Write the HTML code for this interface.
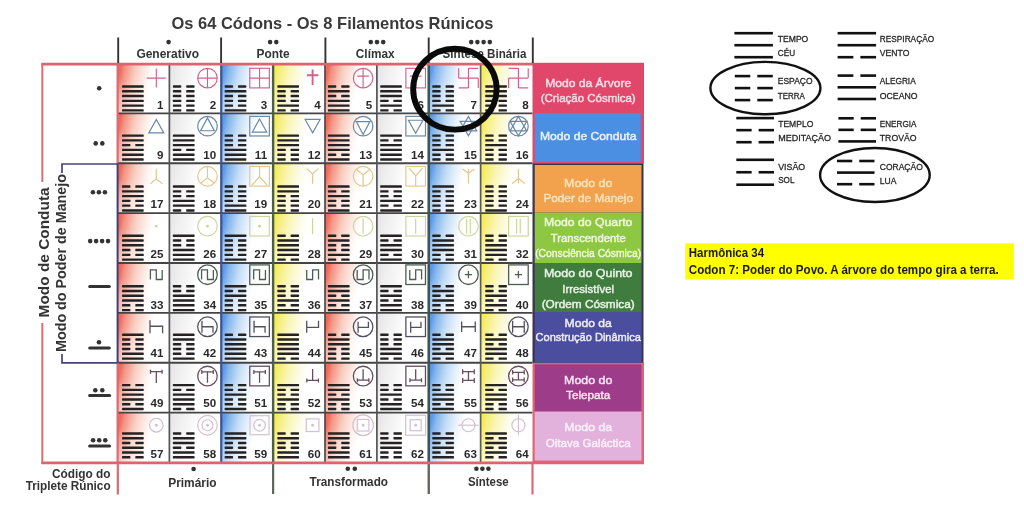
<!DOCTYPE html><html><head><meta charset="utf-8"><style>html,body{margin:0;padding:0;background:#fff;width:1024px;height:510px;overflow:hidden}svg{display:block;will-change:transform}text{font-family:"Liberation Sans",sans-serif}</style></head><body>
<svg width="1024" height="510" viewBox="0 0 1024 510">
<defs>
<linearGradient id="gR" x1="0" y1="0.4" x2="1" y2="0.6"><stop offset="0" stop-color="#ef6a5a"/><stop offset="0.08" stop-color="#f39282"/><stop offset="0.28" stop-color="#f9cdc0"/><stop offset="0.48" stop-color="#fdede7"/><stop offset="0.62" stop-color="#ffffff"/></linearGradient>
<linearGradient id="gG" x1="0" y1="0.4" x2="1" y2="0.6"><stop offset="0" stop-color="#e9e7e9"/><stop offset="0.12" stop-color="#efeeef"/><stop offset="0.35" stop-color="#f8f7f8"/><stop offset="0.5" stop-color="#ffffff"/></linearGradient>
<linearGradient id="gB" x1="0" y1="0.4" x2="1" y2="0.6"><stop offset="0" stop-color="#5e9ae4"/><stop offset="0.08" stop-color="#84b4ec"/><stop offset="0.28" stop-color="#c2dcf6"/><stop offset="0.48" stop-color="#ebf3fc"/><stop offset="0.62" stop-color="#ffffff"/></linearGradient>
<linearGradient id="gY" x1="0" y1="0.4" x2="1" y2="0.6"><stop offset="0" stop-color="#f4ec5c"/><stop offset="0.07" stop-color="#f6ee7c"/><stop offset="0.25" stop-color="#faf6b8"/><stop offset="0.45" stop-color="#fdfbe6"/><stop offset="0.6" stop-color="#ffffff"/></linearGradient>
<linearGradient id="fade" x1="0" y1="0" x2="0" y2="1"><stop offset="0" stop-color="#fff" stop-opacity="0"/><stop offset="0.3" stop-color="#fff" stop-opacity="0"/><stop offset="1" stop-color="#fff" stop-opacity="0.4"/></linearGradient>
</defs>
<rect width="1024" height="510" fill="#fff"/>
<rect x="117.50" y="63.50" width="51.88" height="49.88" fill="url(#gR)"/>
<rect x="117.50" y="63.50" width="51.88" height="49.88" fill="url(#fade)"/>
<rect x="169.38" y="63.50" width="51.88" height="49.88" fill="url(#gG)"/>
<rect x="169.38" y="63.50" width="51.88" height="49.88" fill="url(#fade)"/>
<rect x="221.25" y="63.50" width="51.88" height="49.88" fill="url(#gB)"/>
<rect x="221.25" y="63.50" width="51.88" height="49.88" fill="url(#fade)"/>
<rect x="273.12" y="63.50" width="51.88" height="49.88" fill="url(#gY)"/>
<rect x="273.12" y="63.50" width="51.88" height="49.88" fill="url(#fade)"/>
<rect x="325.00" y="63.50" width="51.88" height="49.88" fill="url(#gR)"/>
<rect x="325.00" y="63.50" width="51.88" height="49.88" fill="url(#fade)"/>
<rect x="376.88" y="63.50" width="51.88" height="49.88" fill="url(#gG)"/>
<rect x="376.88" y="63.50" width="51.88" height="49.88" fill="url(#fade)"/>
<rect x="428.75" y="63.50" width="51.88" height="49.88" fill="url(#gB)"/>
<rect x="428.75" y="63.50" width="51.88" height="49.88" fill="url(#fade)"/>
<rect x="480.62" y="63.50" width="51.88" height="49.88" fill="url(#gY)"/>
<rect x="480.62" y="63.50" width="51.88" height="49.88" fill="url(#fade)"/>
<rect x="117.50" y="113.38" width="51.88" height="49.88" fill="url(#gR)"/>
<rect x="117.50" y="113.38" width="51.88" height="49.88" fill="url(#fade)"/>
<rect x="169.38" y="113.38" width="51.88" height="49.88" fill="url(#gG)"/>
<rect x="169.38" y="113.38" width="51.88" height="49.88" fill="url(#fade)"/>
<rect x="221.25" y="113.38" width="51.88" height="49.88" fill="url(#gB)"/>
<rect x="221.25" y="113.38" width="51.88" height="49.88" fill="url(#fade)"/>
<rect x="273.12" y="113.38" width="51.88" height="49.88" fill="url(#gY)"/>
<rect x="273.12" y="113.38" width="51.88" height="49.88" fill="url(#fade)"/>
<rect x="325.00" y="113.38" width="51.88" height="49.88" fill="url(#gR)"/>
<rect x="325.00" y="113.38" width="51.88" height="49.88" fill="url(#fade)"/>
<rect x="376.88" y="113.38" width="51.88" height="49.88" fill="url(#gG)"/>
<rect x="376.88" y="113.38" width="51.88" height="49.88" fill="url(#fade)"/>
<rect x="428.75" y="113.38" width="51.88" height="49.88" fill="url(#gB)"/>
<rect x="428.75" y="113.38" width="51.88" height="49.88" fill="url(#fade)"/>
<rect x="480.62" y="113.38" width="51.88" height="49.88" fill="url(#gY)"/>
<rect x="480.62" y="113.38" width="51.88" height="49.88" fill="url(#fade)"/>
<rect x="117.50" y="163.25" width="51.88" height="49.88" fill="url(#gR)"/>
<rect x="117.50" y="163.25" width="51.88" height="49.88" fill="url(#fade)"/>
<rect x="169.38" y="163.25" width="51.88" height="49.88" fill="url(#gG)"/>
<rect x="169.38" y="163.25" width="51.88" height="49.88" fill="url(#fade)"/>
<rect x="221.25" y="163.25" width="51.88" height="49.88" fill="url(#gB)"/>
<rect x="221.25" y="163.25" width="51.88" height="49.88" fill="url(#fade)"/>
<rect x="273.12" y="163.25" width="51.88" height="49.88" fill="url(#gY)"/>
<rect x="273.12" y="163.25" width="51.88" height="49.88" fill="url(#fade)"/>
<rect x="325.00" y="163.25" width="51.88" height="49.88" fill="url(#gR)"/>
<rect x="325.00" y="163.25" width="51.88" height="49.88" fill="url(#fade)"/>
<rect x="376.88" y="163.25" width="51.88" height="49.88" fill="url(#gG)"/>
<rect x="376.88" y="163.25" width="51.88" height="49.88" fill="url(#fade)"/>
<rect x="428.75" y="163.25" width="51.88" height="49.88" fill="url(#gB)"/>
<rect x="428.75" y="163.25" width="51.88" height="49.88" fill="url(#fade)"/>
<rect x="480.62" y="163.25" width="51.88" height="49.88" fill="url(#gY)"/>
<rect x="480.62" y="163.25" width="51.88" height="49.88" fill="url(#fade)"/>
<rect x="117.50" y="213.12" width="51.88" height="49.88" fill="url(#gR)"/>
<rect x="117.50" y="213.12" width="51.88" height="49.88" fill="url(#fade)"/>
<rect x="169.38" y="213.12" width="51.88" height="49.88" fill="url(#gG)"/>
<rect x="169.38" y="213.12" width="51.88" height="49.88" fill="url(#fade)"/>
<rect x="221.25" y="213.12" width="51.88" height="49.88" fill="url(#gB)"/>
<rect x="221.25" y="213.12" width="51.88" height="49.88" fill="url(#fade)"/>
<rect x="273.12" y="213.12" width="51.88" height="49.88" fill="url(#gY)"/>
<rect x="273.12" y="213.12" width="51.88" height="49.88" fill="url(#fade)"/>
<rect x="325.00" y="213.12" width="51.88" height="49.88" fill="url(#gR)"/>
<rect x="325.00" y="213.12" width="51.88" height="49.88" fill="url(#fade)"/>
<rect x="376.88" y="213.12" width="51.88" height="49.88" fill="url(#gG)"/>
<rect x="376.88" y="213.12" width="51.88" height="49.88" fill="url(#fade)"/>
<rect x="428.75" y="213.12" width="51.88" height="49.88" fill="url(#gB)"/>
<rect x="428.75" y="213.12" width="51.88" height="49.88" fill="url(#fade)"/>
<rect x="480.62" y="213.12" width="51.88" height="49.88" fill="url(#gY)"/>
<rect x="480.62" y="213.12" width="51.88" height="49.88" fill="url(#fade)"/>
<rect x="117.50" y="263.00" width="51.88" height="49.88" fill="url(#gR)"/>
<rect x="117.50" y="263.00" width="51.88" height="49.88" fill="url(#fade)"/>
<rect x="169.38" y="263.00" width="51.88" height="49.88" fill="url(#gG)"/>
<rect x="169.38" y="263.00" width="51.88" height="49.88" fill="url(#fade)"/>
<rect x="221.25" y="263.00" width="51.88" height="49.88" fill="url(#gB)"/>
<rect x="221.25" y="263.00" width="51.88" height="49.88" fill="url(#fade)"/>
<rect x="273.12" y="263.00" width="51.88" height="49.88" fill="url(#gY)"/>
<rect x="273.12" y="263.00" width="51.88" height="49.88" fill="url(#fade)"/>
<rect x="325.00" y="263.00" width="51.88" height="49.88" fill="url(#gR)"/>
<rect x="325.00" y="263.00" width="51.88" height="49.88" fill="url(#fade)"/>
<rect x="376.88" y="263.00" width="51.88" height="49.88" fill="url(#gG)"/>
<rect x="376.88" y="263.00" width="51.88" height="49.88" fill="url(#fade)"/>
<rect x="428.75" y="263.00" width="51.88" height="49.88" fill="url(#gB)"/>
<rect x="428.75" y="263.00" width="51.88" height="49.88" fill="url(#fade)"/>
<rect x="480.62" y="263.00" width="51.88" height="49.88" fill="url(#gY)"/>
<rect x="480.62" y="263.00" width="51.88" height="49.88" fill="url(#fade)"/>
<rect x="117.50" y="312.88" width="51.88" height="49.88" fill="url(#gR)"/>
<rect x="117.50" y="312.88" width="51.88" height="49.88" fill="url(#fade)"/>
<rect x="169.38" y="312.88" width="51.88" height="49.88" fill="url(#gG)"/>
<rect x="169.38" y="312.88" width="51.88" height="49.88" fill="url(#fade)"/>
<rect x="221.25" y="312.88" width="51.88" height="49.88" fill="url(#gB)"/>
<rect x="221.25" y="312.88" width="51.88" height="49.88" fill="url(#fade)"/>
<rect x="273.12" y="312.88" width="51.88" height="49.88" fill="url(#gY)"/>
<rect x="273.12" y="312.88" width="51.88" height="49.88" fill="url(#fade)"/>
<rect x="325.00" y="312.88" width="51.88" height="49.88" fill="url(#gR)"/>
<rect x="325.00" y="312.88" width="51.88" height="49.88" fill="url(#fade)"/>
<rect x="376.88" y="312.88" width="51.88" height="49.88" fill="url(#gG)"/>
<rect x="376.88" y="312.88" width="51.88" height="49.88" fill="url(#fade)"/>
<rect x="428.75" y="312.88" width="51.88" height="49.88" fill="url(#gB)"/>
<rect x="428.75" y="312.88" width="51.88" height="49.88" fill="url(#fade)"/>
<rect x="480.62" y="312.88" width="51.88" height="49.88" fill="url(#gY)"/>
<rect x="480.62" y="312.88" width="51.88" height="49.88" fill="url(#fade)"/>
<rect x="117.50" y="362.75" width="51.88" height="49.88" fill="url(#gR)"/>
<rect x="117.50" y="362.75" width="51.88" height="49.88" fill="url(#fade)"/>
<rect x="169.38" y="362.75" width="51.88" height="49.88" fill="url(#gG)"/>
<rect x="169.38" y="362.75" width="51.88" height="49.88" fill="url(#fade)"/>
<rect x="221.25" y="362.75" width="51.88" height="49.88" fill="url(#gB)"/>
<rect x="221.25" y="362.75" width="51.88" height="49.88" fill="url(#fade)"/>
<rect x="273.12" y="362.75" width="51.88" height="49.88" fill="url(#gY)"/>
<rect x="273.12" y="362.75" width="51.88" height="49.88" fill="url(#fade)"/>
<rect x="325.00" y="362.75" width="51.88" height="49.88" fill="url(#gR)"/>
<rect x="325.00" y="362.75" width="51.88" height="49.88" fill="url(#fade)"/>
<rect x="376.88" y="362.75" width="51.88" height="49.88" fill="url(#gG)"/>
<rect x="376.88" y="362.75" width="51.88" height="49.88" fill="url(#fade)"/>
<rect x="428.75" y="362.75" width="51.88" height="49.88" fill="url(#gB)"/>
<rect x="428.75" y="362.75" width="51.88" height="49.88" fill="url(#fade)"/>
<rect x="480.62" y="362.75" width="51.88" height="49.88" fill="url(#gY)"/>
<rect x="480.62" y="362.75" width="51.88" height="49.88" fill="url(#fade)"/>
<rect x="117.50" y="412.62" width="51.88" height="49.88" fill="url(#gR)"/>
<rect x="117.50" y="412.62" width="51.88" height="49.88" fill="url(#fade)"/>
<rect x="169.38" y="412.62" width="51.88" height="49.88" fill="url(#gG)"/>
<rect x="169.38" y="412.62" width="51.88" height="49.88" fill="url(#fade)"/>
<rect x="221.25" y="412.62" width="51.88" height="49.88" fill="url(#gB)"/>
<rect x="221.25" y="412.62" width="51.88" height="49.88" fill="url(#fade)"/>
<rect x="273.12" y="412.62" width="51.88" height="49.88" fill="url(#gY)"/>
<rect x="273.12" y="412.62" width="51.88" height="49.88" fill="url(#fade)"/>
<rect x="325.00" y="412.62" width="51.88" height="49.88" fill="url(#gR)"/>
<rect x="325.00" y="412.62" width="51.88" height="49.88" fill="url(#fade)"/>
<rect x="376.88" y="412.62" width="51.88" height="49.88" fill="url(#gG)"/>
<rect x="376.88" y="412.62" width="51.88" height="49.88" fill="url(#fade)"/>
<rect x="428.75" y="412.62" width="51.88" height="49.88" fill="url(#gB)"/>
<rect x="428.75" y="412.62" width="51.88" height="49.88" fill="url(#fade)"/>
<rect x="480.62" y="412.62" width="51.88" height="49.88" fill="url(#gY)"/>
<rect x="480.62" y="412.62" width="51.88" height="49.88" fill="url(#fade)"/>
<rect x="122.00" y="85.30" width="21.7" height="2.4" rx="0.6" fill="#242222"/>
<rect x="122.00" y="90.08" width="21.7" height="2.4" rx="0.6" fill="#242222"/>
<rect x="122.00" y="94.86" width="21.7" height="2.4" rx="0.6" fill="#242222"/>
<rect x="122.00" y="99.64" width="21.7" height="2.4" rx="0.6" fill="#242222"/>
<rect x="122.00" y="104.42" width="21.7" height="2.4" rx="0.6" fill="#242222"/>
<rect x="122.00" y="109.20" width="21.7" height="2.4" rx="0.6" fill="#242222"/>
<text x="163.38" y="109.40" font-size="11.6" font-weight="bold" fill="#2a2a2a" text-anchor="end">1</text>
<g transform="translate(156.30,78.10)" fill="none" stroke="#d2628a" stroke-width="1.15" color="#d2628a"><path d="M-9.5,0H9.5M0,-9.5V9.5"/></g>
<rect x="172.88" y="85.30" width="8.4" height="2.4" rx="0.6" fill="#242222"/>
<rect x="186.18" y="85.30" width="8.4" height="2.4" rx="0.6" fill="#242222"/>
<rect x="172.88" y="90.08" width="8.4" height="2.4" rx="0.6" fill="#242222"/>
<rect x="186.18" y="90.08" width="8.4" height="2.4" rx="0.6" fill="#242222"/>
<rect x="172.88" y="94.86" width="8.4" height="2.4" rx="0.6" fill="#242222"/>
<rect x="186.18" y="94.86" width="8.4" height="2.4" rx="0.6" fill="#242222"/>
<rect x="172.88" y="99.64" width="8.4" height="2.4" rx="0.6" fill="#242222"/>
<rect x="186.18" y="99.64" width="8.4" height="2.4" rx="0.6" fill="#242222"/>
<rect x="172.88" y="104.42" width="8.4" height="2.4" rx="0.6" fill="#242222"/>
<rect x="186.18" y="104.42" width="8.4" height="2.4" rx="0.6" fill="#242222"/>
<rect x="172.88" y="109.20" width="8.4" height="2.4" rx="0.6" fill="#242222"/>
<rect x="186.18" y="109.20" width="8.4" height="2.4" rx="0.6" fill="#242222"/>
<text x="216.15" y="109.40" font-size="11.6" font-weight="bold" fill="#2a2a2a" text-anchor="end">2</text>
<g transform="translate(207.47,78.10)" fill="none" stroke="#d2628a" stroke-width="1.15" color="#d2628a"><circle cx="0" cy="0" r="9.8"/><path d="M-9.8,0H9.8M0,-9.8V9.8"/></g>
<rect x="224.65" y="85.30" width="8.4" height="2.4" rx="0.6" fill="#242222"/>
<rect x="237.95" y="85.30" width="8.4" height="2.4" rx="0.6" fill="#242222"/>
<rect x="224.65" y="90.08" width="21.7" height="2.4" rx="0.6" fill="#242222"/>
<rect x="224.65" y="94.86" width="8.4" height="2.4" rx="0.6" fill="#242222"/>
<rect x="237.95" y="94.86" width="8.4" height="2.4" rx="0.6" fill="#242222"/>
<rect x="224.65" y="99.64" width="8.4" height="2.4" rx="0.6" fill="#242222"/>
<rect x="237.95" y="99.64" width="8.4" height="2.4" rx="0.6" fill="#242222"/>
<rect x="224.65" y="104.42" width="8.4" height="2.4" rx="0.6" fill="#242222"/>
<rect x="237.95" y="104.42" width="8.4" height="2.4" rx="0.6" fill="#242222"/>
<rect x="224.65" y="109.20" width="21.7" height="2.4" rx="0.6" fill="#242222"/>
<text x="267.12" y="109.40" font-size="11.6" font-weight="bold" fill="#2a2a2a" text-anchor="end">3</text>
<g transform="translate(259.55,78.10)" fill="none" stroke="#d2628a" stroke-width="1.15" color="#d2628a"><rect x="-9.8" y="-9.8" width="19.6" height="19.6"/><path d="M-9.8,0H9.8M0,-9.8V9.8"/></g>
<rect x="277.32" y="85.30" width="21.7" height="2.4" rx="0.6" fill="#242222"/>
<rect x="277.32" y="90.08" width="8.4" height="2.4" rx="0.6" fill="#242222"/>
<rect x="290.62" y="90.08" width="8.4" height="2.4" rx="0.6" fill="#242222"/>
<rect x="277.32" y="94.86" width="8.4" height="2.4" rx="0.6" fill="#242222"/>
<rect x="290.62" y="94.86" width="8.4" height="2.4" rx="0.6" fill="#242222"/>
<rect x="277.32" y="99.64" width="8.4" height="2.4" rx="0.6" fill="#242222"/>
<rect x="290.62" y="99.64" width="8.4" height="2.4" rx="0.6" fill="#242222"/>
<rect x="277.32" y="104.42" width="21.7" height="2.4" rx="0.6" fill="#242222"/>
<rect x="277.32" y="109.20" width="8.4" height="2.4" rx="0.6" fill="#242222"/>
<rect x="290.62" y="109.20" width="8.4" height="2.4" rx="0.6" fill="#242222"/>
<text x="320.60" y="109.40" font-size="11.6" font-weight="bold" fill="#2a2a2a" text-anchor="end">4</text>
<g transform="translate(312.62,78.10)" fill="none" stroke="#d2628a" stroke-width="1.15" color="#d2628a"><g stroke-width="1.9"><path d="M0,-8.6V6.8M-5.8,-2.8H5.8"/></g></g>
<rect x="327.90" y="85.30" width="8.4" height="2.4" rx="0.6" fill="#242222"/>
<rect x="341.20" y="85.30" width="8.4" height="2.4" rx="0.6" fill="#242222"/>
<rect x="327.90" y="90.08" width="21.7" height="2.4" rx="0.6" fill="#242222"/>
<rect x="327.90" y="94.86" width="8.4" height="2.4" rx="0.6" fill="#242222"/>
<rect x="341.20" y="94.86" width="8.4" height="2.4" rx="0.6" fill="#242222"/>
<rect x="327.90" y="99.64" width="21.7" height="2.4" rx="0.6" fill="#242222"/>
<rect x="327.90" y="104.42" width="21.7" height="2.4" rx="0.6" fill="#242222"/>
<rect x="327.90" y="109.20" width="21.7" height="2.4" rx="0.6" fill="#242222"/>
<text x="372.18" y="109.40" font-size="11.6" font-weight="bold" fill="#2a2a2a" text-anchor="end">5</text>
<g transform="translate(363.10,78.10)" fill="none" stroke="#d2628a" stroke-width="1.15" color="#d2628a"><circle cx="0" cy="0" r="9.8"/><path d="M0,-9.8V9.8M-5.8,-2H5.8"/></g>
<rect x="380.18" y="85.30" width="21.7" height="2.4" rx="0.6" fill="#242222"/>
<rect x="380.18" y="90.08" width="21.7" height="2.4" rx="0.6" fill="#242222"/>
<rect x="380.18" y="94.86" width="21.7" height="2.4" rx="0.6" fill="#242222"/>
<rect x="380.18" y="99.64" width="8.4" height="2.4" rx="0.6" fill="#242222"/>
<rect x="393.48" y="99.64" width="8.4" height="2.4" rx="0.6" fill="#242222"/>
<rect x="380.18" y="104.42" width="21.7" height="2.4" rx="0.6" fill="#242222"/>
<rect x="380.18" y="109.20" width="8.4" height="2.4" rx="0.6" fill="#242222"/>
<rect x="393.48" y="109.20" width="8.4" height="2.4" rx="0.6" fill="#242222"/>
<text x="423.85" y="109.40" font-size="11.6" font-weight="bold" fill="#2a2a2a" text-anchor="end">6</text>
<g transform="translate(415.68,78.10)" fill="none" stroke="#d2628a" stroke-width="1.15" color="#d2628a"><rect x="-9.8" y="-9.8" width="19.6" height="19.6"/><path d="M0,-9.8V9.8M-5.8,-2H5.8"/></g>
<rect x="432.25" y="85.30" width="8.4" height="2.4" rx="0.6" fill="#242222"/>
<rect x="445.55" y="85.30" width="8.4" height="2.4" rx="0.6" fill="#242222"/>
<rect x="432.25" y="90.08" width="8.4" height="2.4" rx="0.6" fill="#242222"/>
<rect x="445.55" y="90.08" width="8.4" height="2.4" rx="0.6" fill="#242222"/>
<rect x="432.25" y="94.86" width="8.4" height="2.4" rx="0.6" fill="#242222"/>
<rect x="445.55" y="94.86" width="8.4" height="2.4" rx="0.6" fill="#242222"/>
<rect x="432.25" y="99.64" width="8.4" height="2.4" rx="0.6" fill="#242222"/>
<rect x="445.55" y="99.64" width="8.4" height="2.4" rx="0.6" fill="#242222"/>
<rect x="432.25" y="104.42" width="21.7" height="2.4" rx="0.6" fill="#242222"/>
<rect x="432.25" y="109.20" width="8.4" height="2.4" rx="0.6" fill="#242222"/>
<rect x="445.55" y="109.20" width="8.4" height="2.4" rx="0.6" fill="#242222"/>
<text x="476.93" y="109.40" font-size="11.6" font-weight="bold" fill="#2a2a2a" text-anchor="end">7</text>
<g transform="translate(468.45,78.10)" fill="none" stroke="#d2628a" stroke-width="1.15" color="#d2628a"><path d="M0,-9.8V9.8M-9.8,0H9.8M0,-9.8H9.8M9.8,0V9.8M0,9.8H-9.8M-9.8,0V-9.8"/></g>
<rect x="485.23" y="85.30" width="8.4" height="2.4" rx="0.6" fill="#242222"/>
<rect x="498.53" y="85.30" width="8.4" height="2.4" rx="0.6" fill="#242222"/>
<rect x="485.23" y="90.08" width="21.7" height="2.4" rx="0.6" fill="#242222"/>
<rect x="485.23" y="94.86" width="8.4" height="2.4" rx="0.6" fill="#242222"/>
<rect x="498.53" y="94.86" width="8.4" height="2.4" rx="0.6" fill="#242222"/>
<rect x="485.23" y="99.64" width="8.4" height="2.4" rx="0.6" fill="#242222"/>
<rect x="498.53" y="99.64" width="8.4" height="2.4" rx="0.6" fill="#242222"/>
<rect x="485.23" y="104.42" width="8.4" height="2.4" rx="0.6" fill="#242222"/>
<rect x="498.53" y="104.42" width="8.4" height="2.4" rx="0.6" fill="#242222"/>
<rect x="485.23" y="109.20" width="8.4" height="2.4" rx="0.6" fill="#242222"/>
<rect x="498.53" y="109.20" width="8.4" height="2.4" rx="0.6" fill="#242222"/>
<text x="528.60" y="109.40" font-size="11.6" font-weight="bold" fill="#2a2a2a" text-anchor="end">8</text>
<g transform="translate(518.42,78.10)" fill="none" stroke="#d2628a" stroke-width="1.15" color="#d2628a"><path d="M0,-9.8V9.8M-9.8,0H9.8M0,-9.8H-9.8M-9.8,0V9.8M0,9.8H9.8M9.8,0V-9.8"/></g>
<rect x="122.00" y="134.38" width="21.7" height="2.4" rx="0.6" fill="#242222"/>
<rect x="122.00" y="139.16" width="21.7" height="2.4" rx="0.6" fill="#242222"/>
<rect x="122.00" y="143.94" width="8.4" height="2.4" rx="0.6" fill="#242222"/>
<rect x="135.30" y="143.94" width="8.4" height="2.4" rx="0.6" fill="#242222"/>
<rect x="122.00" y="148.72" width="21.7" height="2.4" rx="0.6" fill="#242222"/>
<rect x="122.00" y="153.50" width="21.7" height="2.4" rx="0.6" fill="#242222"/>
<rect x="122.00" y="158.28" width="21.7" height="2.4" rx="0.6" fill="#242222"/>
<text x="163.38" y="159.38" font-size="11.6" font-weight="bold" fill="#2a2a2a" text-anchor="end">9</text>
<g transform="translate(156.30,126.17)" fill="none" stroke="#6888a8" stroke-width="1.2" color="#6888a8"><path d="M0,-6.7L7.5,6.7H-7.5Z"/></g>
<rect x="172.88" y="134.38" width="21.7" height="2.4" rx="0.6" fill="#242222"/>
<rect x="172.88" y="139.16" width="21.7" height="2.4" rx="0.6" fill="#242222"/>
<rect x="172.88" y="143.94" width="21.7" height="2.4" rx="0.6" fill="#242222"/>
<rect x="172.88" y="148.72" width="8.4" height="2.4" rx="0.6" fill="#242222"/>
<rect x="186.18" y="148.72" width="8.4" height="2.4" rx="0.6" fill="#242222"/>
<rect x="172.88" y="153.50" width="21.7" height="2.4" rx="0.6" fill="#242222"/>
<rect x="172.88" y="158.28" width="21.7" height="2.4" rx="0.6" fill="#242222"/>
<text x="216.15" y="159.38" font-size="11.6" font-weight="bold" fill="#2a2a2a" text-anchor="end">10</text>
<g transform="translate(207.47,126.17)" fill="none" stroke="#6888a8" stroke-width="1.2" color="#6888a8"><circle cx="0" cy="0" r="9.8"/><path d="M0,-8.3L6.8,4.6H-6.8Z"/></g>
<rect x="224.65" y="134.38" width="8.4" height="2.4" rx="0.6" fill="#242222"/>
<rect x="237.95" y="134.38" width="8.4" height="2.4" rx="0.6" fill="#242222"/>
<rect x="224.65" y="139.16" width="8.4" height="2.4" rx="0.6" fill="#242222"/>
<rect x="237.95" y="139.16" width="8.4" height="2.4" rx="0.6" fill="#242222"/>
<rect x="224.65" y="143.94" width="8.4" height="2.4" rx="0.6" fill="#242222"/>
<rect x="237.95" y="143.94" width="8.4" height="2.4" rx="0.6" fill="#242222"/>
<rect x="224.65" y="148.72" width="21.7" height="2.4" rx="0.6" fill="#242222"/>
<rect x="224.65" y="153.50" width="21.7" height="2.4" rx="0.6" fill="#242222"/>
<rect x="224.65" y="158.28" width="21.7" height="2.4" rx="0.6" fill="#242222"/>
<text x="267.12" y="159.38" font-size="11.6" font-weight="bold" fill="#2a2a2a" text-anchor="end">11</text>
<g transform="translate(259.55,126.17)" fill="none" stroke="#6888a8" stroke-width="1.2" color="#6888a8"><rect x="-9.8" y="-9.8" width="19.6" height="19.6"/><path d="M0,-7.1L7.2,5.9H-7.2Z"/></g>
<rect x="277.32" y="134.38" width="21.7" height="2.4" rx="0.6" fill="#242222"/>
<rect x="277.32" y="139.16" width="21.7" height="2.4" rx="0.6" fill="#242222"/>
<rect x="277.32" y="143.94" width="21.7" height="2.4" rx="0.6" fill="#242222"/>
<rect x="277.32" y="148.72" width="8.4" height="2.4" rx="0.6" fill="#242222"/>
<rect x="290.62" y="148.72" width="8.4" height="2.4" rx="0.6" fill="#242222"/>
<rect x="277.32" y="153.50" width="8.4" height="2.4" rx="0.6" fill="#242222"/>
<rect x="290.62" y="153.50" width="8.4" height="2.4" rx="0.6" fill="#242222"/>
<rect x="277.32" y="158.28" width="8.4" height="2.4" rx="0.6" fill="#242222"/>
<rect x="290.62" y="158.28" width="8.4" height="2.4" rx="0.6" fill="#242222"/>
<text x="320.60" y="159.38" font-size="11.6" font-weight="bold" fill="#2a2a2a" text-anchor="end">12</text>
<g transform="translate(312.62,126.17)" fill="none" stroke="#6888a8" stroke-width="1.2" color="#6888a8"><path d="M0,6.7L7.5,-6.7H-7.5Z"/></g>
<rect x="327.90" y="134.38" width="21.7" height="2.4" rx="0.6" fill="#242222"/>
<rect x="327.90" y="139.16" width="21.7" height="2.4" rx="0.6" fill="#242222"/>
<rect x="327.90" y="143.94" width="21.7" height="2.4" rx="0.6" fill="#242222"/>
<rect x="327.90" y="148.72" width="21.7" height="2.4" rx="0.6" fill="#242222"/>
<rect x="327.90" y="153.50" width="8.4" height="2.4" rx="0.6" fill="#242222"/>
<rect x="341.20" y="153.50" width="8.4" height="2.4" rx="0.6" fill="#242222"/>
<rect x="327.90" y="158.28" width="21.7" height="2.4" rx="0.6" fill="#242222"/>
<text x="372.18" y="159.38" font-size="11.6" font-weight="bold" fill="#2a2a2a" text-anchor="end">13</text>
<g transform="translate(363.10,126.17)" fill="none" stroke="#6888a8" stroke-width="1.2" color="#6888a8"><circle cx="0" cy="0" r="9.8"/><path d="M0,8.3L6.8,-4.6H-6.8Z"/></g>
<rect x="380.18" y="134.38" width="21.7" height="2.4" rx="0.6" fill="#242222"/>
<rect x="380.18" y="139.16" width="8.4" height="2.4" rx="0.6" fill="#242222"/>
<rect x="393.48" y="139.16" width="8.4" height="2.4" rx="0.6" fill="#242222"/>
<rect x="380.18" y="143.94" width="21.7" height="2.4" rx="0.6" fill="#242222"/>
<rect x="380.18" y="148.72" width="21.7" height="2.4" rx="0.6" fill="#242222"/>
<rect x="380.18" y="153.50" width="21.7" height="2.4" rx="0.6" fill="#242222"/>
<rect x="380.18" y="158.28" width="21.7" height="2.4" rx="0.6" fill="#242222"/>
<text x="423.85" y="159.38" font-size="11.6" font-weight="bold" fill="#2a2a2a" text-anchor="end">14</text>
<g transform="translate(415.68,126.17)" fill="none" stroke="#6888a8" stroke-width="1.2" color="#6888a8"><rect x="-9.8" y="-9.8" width="19.6" height="19.6"/><path d="M0,7.1L7.2,-5.9H-7.2Z"/></g>
<rect x="432.25" y="134.38" width="8.4" height="2.4" rx="0.6" fill="#242222"/>
<rect x="445.55" y="134.38" width="8.4" height="2.4" rx="0.6" fill="#242222"/>
<rect x="432.25" y="139.16" width="8.4" height="2.4" rx="0.6" fill="#242222"/>
<rect x="445.55" y="139.16" width="8.4" height="2.4" rx="0.6" fill="#242222"/>
<rect x="432.25" y="143.94" width="8.4" height="2.4" rx="0.6" fill="#242222"/>
<rect x="445.55" y="143.94" width="8.4" height="2.4" rx="0.6" fill="#242222"/>
<rect x="432.25" y="148.72" width="21.7" height="2.4" rx="0.6" fill="#242222"/>
<rect x="432.25" y="153.50" width="8.4" height="2.4" rx="0.6" fill="#242222"/>
<rect x="445.55" y="153.50" width="8.4" height="2.4" rx="0.6" fill="#242222"/>
<rect x="432.25" y="158.28" width="8.4" height="2.4" rx="0.6" fill="#242222"/>
<rect x="445.55" y="158.28" width="8.4" height="2.4" rx="0.6" fill="#242222"/>
<text x="476.93" y="159.38" font-size="11.6" font-weight="bold" fill="#2a2a2a" text-anchor="end">15</text>
<g transform="translate(468.45,126.17)" fill="none" stroke="#6888a8" stroke-width="1.2" color="#6888a8"><path d="M0,-9.6L8.3,4.8H-8.3Z"/><path d="M0,9.6L8.3,-4.8H-8.3Z"/></g>
<rect x="485.23" y="134.38" width="8.4" height="2.4" rx="0.6" fill="#242222"/>
<rect x="498.53" y="134.38" width="8.4" height="2.4" rx="0.6" fill="#242222"/>
<rect x="485.23" y="139.16" width="8.4" height="2.4" rx="0.6" fill="#242222"/>
<rect x="498.53" y="139.16" width="8.4" height="2.4" rx="0.6" fill="#242222"/>
<rect x="485.23" y="143.94" width="21.7" height="2.4" rx="0.6" fill="#242222"/>
<rect x="485.23" y="148.72" width="8.4" height="2.4" rx="0.6" fill="#242222"/>
<rect x="498.53" y="148.72" width="8.4" height="2.4" rx="0.6" fill="#242222"/>
<rect x="485.23" y="153.50" width="8.4" height="2.4" rx="0.6" fill="#242222"/>
<rect x="498.53" y="153.50" width="8.4" height="2.4" rx="0.6" fill="#242222"/>
<rect x="485.23" y="158.28" width="8.4" height="2.4" rx="0.6" fill="#242222"/>
<rect x="498.53" y="158.28" width="8.4" height="2.4" rx="0.6" fill="#242222"/>
<text x="528.60" y="159.38" font-size="11.6" font-weight="bold" fill="#2a2a2a" text-anchor="end">16</text>
<g transform="translate(518.42,126.17)" fill="none" stroke="#6888a8" stroke-width="1.2" color="#6888a8"><circle cx="0" cy="0" r="9.8"/><path d="M0,-9.6L8.3,4.8H-8.3Z"/><path d="M0,9.6L8.3,-4.8H-8.3Z"/></g>
<rect x="122.00" y="185.35" width="8.4" height="2.4" rx="0.6" fill="#242222"/>
<rect x="135.30" y="185.35" width="8.4" height="2.4" rx="0.6" fill="#242222"/>
<rect x="122.00" y="190.13" width="21.7" height="2.4" rx="0.6" fill="#242222"/>
<rect x="122.00" y="194.91" width="21.7" height="2.4" rx="0.6" fill="#242222"/>
<rect x="122.00" y="199.69" width="8.4" height="2.4" rx="0.6" fill="#242222"/>
<rect x="135.30" y="199.69" width="8.4" height="2.4" rx="0.6" fill="#242222"/>
<rect x="122.00" y="204.47" width="8.4" height="2.4" rx="0.6" fill="#242222"/>
<rect x="135.30" y="204.47" width="8.4" height="2.4" rx="0.6" fill="#242222"/>
<rect x="122.00" y="209.25" width="21.7" height="2.4" rx="0.6" fill="#242222"/>
<text x="163.38" y="208.15" font-size="11.6" font-weight="bold" fill="#2a2a2a" text-anchor="end">17</text>
<g transform="translate(156.30,176.25)" fill="none" stroke="#e2c88e" stroke-width="1.2" color="#e2c88e"><path d="M0,-7.5V2.5L-6,7.6M0,2.5L6,7.6"/></g>
<rect x="172.88" y="185.35" width="21.7" height="2.4" rx="0.6" fill="#242222"/>
<rect x="172.88" y="190.13" width="8.4" height="2.4" rx="0.6" fill="#242222"/>
<rect x="186.18" y="190.13" width="8.4" height="2.4" rx="0.6" fill="#242222"/>
<rect x="172.88" y="194.91" width="8.4" height="2.4" rx="0.6" fill="#242222"/>
<rect x="186.18" y="194.91" width="8.4" height="2.4" rx="0.6" fill="#242222"/>
<rect x="172.88" y="199.69" width="21.7" height="2.4" rx="0.6" fill="#242222"/>
<rect x="172.88" y="204.47" width="21.7" height="2.4" rx="0.6" fill="#242222"/>
<rect x="172.88" y="209.25" width="8.4" height="2.4" rx="0.6" fill="#242222"/>
<rect x="186.18" y="209.25" width="8.4" height="2.4" rx="0.6" fill="#242222"/>
<text x="216.15" y="208.15" font-size="11.6" font-weight="bold" fill="#2a2a2a" text-anchor="end">18</text>
<g transform="translate(207.47,176.25)" fill="none" stroke="#e2c88e" stroke-width="1.2" color="#e2c88e"><circle cx="0" cy="0" r="9.8"/><path d="M0,-9.8V1.5L-7,7M0,1.5L7,7"/></g>
<rect x="224.65" y="185.35" width="8.4" height="2.4" rx="0.6" fill="#242222"/>
<rect x="237.95" y="185.35" width="8.4" height="2.4" rx="0.6" fill="#242222"/>
<rect x="224.65" y="190.13" width="8.4" height="2.4" rx="0.6" fill="#242222"/>
<rect x="237.95" y="190.13" width="8.4" height="2.4" rx="0.6" fill="#242222"/>
<rect x="224.65" y="194.91" width="8.4" height="2.4" rx="0.6" fill="#242222"/>
<rect x="237.95" y="194.91" width="8.4" height="2.4" rx="0.6" fill="#242222"/>
<rect x="224.65" y="199.69" width="8.4" height="2.4" rx="0.6" fill="#242222"/>
<rect x="237.95" y="199.69" width="8.4" height="2.4" rx="0.6" fill="#242222"/>
<rect x="224.65" y="204.47" width="21.7" height="2.4" rx="0.6" fill="#242222"/>
<rect x="224.65" y="209.25" width="21.7" height="2.4" rx="0.6" fill="#242222"/>
<text x="267.12" y="208.15" font-size="11.6" font-weight="bold" fill="#2a2a2a" text-anchor="end">19</text>
<g transform="translate(259.55,176.25)" fill="none" stroke="#e2c88e" stroke-width="1.2" color="#e2c88e"><rect x="-9.8" y="-9.8" width="19.6" height="19.6"/><path d="M0,-9.8V0.5L-7.5,8.8M0,0.5L7.5,8.8"/></g>
<rect x="277.32" y="185.35" width="21.7" height="2.4" rx="0.6" fill="#242222"/>
<rect x="277.32" y="190.13" width="21.7" height="2.4" rx="0.6" fill="#242222"/>
<rect x="277.32" y="194.91" width="8.4" height="2.4" rx="0.6" fill="#242222"/>
<rect x="290.62" y="194.91" width="8.4" height="2.4" rx="0.6" fill="#242222"/>
<rect x="277.32" y="199.69" width="8.4" height="2.4" rx="0.6" fill="#242222"/>
<rect x="290.62" y="199.69" width="8.4" height="2.4" rx="0.6" fill="#242222"/>
<rect x="277.32" y="204.47" width="8.4" height="2.4" rx="0.6" fill="#242222"/>
<rect x="290.62" y="204.47" width="8.4" height="2.4" rx="0.6" fill="#242222"/>
<rect x="277.32" y="209.25" width="8.4" height="2.4" rx="0.6" fill="#242222"/>
<rect x="290.62" y="209.25" width="8.4" height="2.4" rx="0.6" fill="#242222"/>
<text x="320.60" y="208.15" font-size="11.6" font-weight="bold" fill="#2a2a2a" text-anchor="end">20</text>
<g transform="translate(312.62,176.25)" fill="none" stroke="#e2c88e" stroke-width="1.2" color="#e2c88e"><path d="M0,7.5V-2.5L-6,-7.6M0,-2.5L6,-7.6"/></g>
<rect x="327.90" y="185.35" width="21.7" height="2.4" rx="0.6" fill="#242222"/>
<rect x="327.90" y="190.13" width="8.4" height="2.4" rx="0.6" fill="#242222"/>
<rect x="341.20" y="190.13" width="8.4" height="2.4" rx="0.6" fill="#242222"/>
<rect x="327.90" y="194.91" width="21.7" height="2.4" rx="0.6" fill="#242222"/>
<rect x="327.90" y="199.69" width="8.4" height="2.4" rx="0.6" fill="#242222"/>
<rect x="341.20" y="199.69" width="8.4" height="2.4" rx="0.6" fill="#242222"/>
<rect x="327.90" y="204.47" width="8.4" height="2.4" rx="0.6" fill="#242222"/>
<rect x="341.20" y="204.47" width="8.4" height="2.4" rx="0.6" fill="#242222"/>
<rect x="327.90" y="209.25" width="21.7" height="2.4" rx="0.6" fill="#242222"/>
<text x="372.18" y="208.15" font-size="11.6" font-weight="bold" fill="#2a2a2a" text-anchor="end">21</text>
<g transform="translate(363.10,176.25)" fill="none" stroke="#e2c88e" stroke-width="1.2" color="#e2c88e"><circle cx="0" cy="0" r="9.8"/><path d="M0,9.8V-1.5L-7,-7M0,-1.5L7,-7"/></g>
<rect x="380.18" y="185.35" width="21.7" height="2.4" rx="0.6" fill="#242222"/>
<rect x="380.18" y="190.13" width="8.4" height="2.4" rx="0.6" fill="#242222"/>
<rect x="393.48" y="190.13" width="8.4" height="2.4" rx="0.6" fill="#242222"/>
<rect x="380.18" y="194.91" width="8.4" height="2.4" rx="0.6" fill="#242222"/>
<rect x="393.48" y="194.91" width="8.4" height="2.4" rx="0.6" fill="#242222"/>
<rect x="380.18" y="199.69" width="21.7" height="2.4" rx="0.6" fill="#242222"/>
<rect x="380.18" y="204.47" width="8.4" height="2.4" rx="0.6" fill="#242222"/>
<rect x="393.48" y="204.47" width="8.4" height="2.4" rx="0.6" fill="#242222"/>
<rect x="380.18" y="209.25" width="21.7" height="2.4" rx="0.6" fill="#242222"/>
<text x="423.85" y="208.15" font-size="11.6" font-weight="bold" fill="#2a2a2a" text-anchor="end">22</text>
<g transform="translate(415.68,176.25)" fill="none" stroke="#e2c88e" stroke-width="1.2" color="#e2c88e"><rect x="-9.8" y="-9.8" width="19.6" height="19.6"/><path d="M0,9.8V-0.5L-6.8,-8.2M0,-0.5L6.8,-8.2"/></g>
<rect x="432.25" y="185.35" width="21.7" height="2.4" rx="0.6" fill="#242222"/>
<rect x="432.25" y="190.13" width="8.4" height="2.4" rx="0.6" fill="#242222"/>
<rect x="445.55" y="190.13" width="8.4" height="2.4" rx="0.6" fill="#242222"/>
<rect x="432.25" y="194.91" width="8.4" height="2.4" rx="0.6" fill="#242222"/>
<rect x="445.55" y="194.91" width="8.4" height="2.4" rx="0.6" fill="#242222"/>
<rect x="432.25" y="199.69" width="8.4" height="2.4" rx="0.6" fill="#242222"/>
<rect x="445.55" y="199.69" width="8.4" height="2.4" rx="0.6" fill="#242222"/>
<rect x="432.25" y="204.47" width="8.4" height="2.4" rx="0.6" fill="#242222"/>
<rect x="445.55" y="204.47" width="8.4" height="2.4" rx="0.6" fill="#242222"/>
<rect x="432.25" y="209.25" width="8.4" height="2.4" rx="0.6" fill="#242222"/>
<rect x="445.55" y="209.25" width="8.4" height="2.4" rx="0.6" fill="#242222"/>
<text x="476.93" y="208.15" font-size="11.6" font-weight="bold" fill="#2a2a2a" text-anchor="end">23</text>
<g transform="translate(468.45,176.25)" fill="none" stroke="#e2c88e" stroke-width="1.2" color="#e2c88e"><path d="M0,-7.2V7.3M0,-3L-6,-7.2M0,-3L6,-7.2"/></g>
<rect x="485.23" y="185.35" width="8.4" height="2.4" rx="0.6" fill="#242222"/>
<rect x="498.53" y="185.35" width="8.4" height="2.4" rx="0.6" fill="#242222"/>
<rect x="485.23" y="190.13" width="8.4" height="2.4" rx="0.6" fill="#242222"/>
<rect x="498.53" y="190.13" width="8.4" height="2.4" rx="0.6" fill="#242222"/>
<rect x="485.23" y="194.91" width="8.4" height="2.4" rx="0.6" fill="#242222"/>
<rect x="498.53" y="194.91" width="8.4" height="2.4" rx="0.6" fill="#242222"/>
<rect x="485.23" y="199.69" width="8.4" height="2.4" rx="0.6" fill="#242222"/>
<rect x="498.53" y="199.69" width="8.4" height="2.4" rx="0.6" fill="#242222"/>
<rect x="485.23" y="204.47" width="8.4" height="2.4" rx="0.6" fill="#242222"/>
<rect x="498.53" y="204.47" width="8.4" height="2.4" rx="0.6" fill="#242222"/>
<rect x="485.23" y="209.25" width="21.7" height="2.4" rx="0.6" fill="#242222"/>
<text x="528.60" y="208.15" font-size="11.6" font-weight="bold" fill="#2a2a2a" text-anchor="end">24</text>
<g transform="translate(518.42,176.25)" fill="none" stroke="#e2c88e" stroke-width="1.2" color="#e2c88e"><path d="M0,-7.3V7.2M0,2.3L-6.4,7.2M0,2.3L6.4,7.2"/></g>
<rect x="122.00" y="234.53" width="21.7" height="2.4" rx="0.6" fill="#242222"/>
<rect x="122.00" y="239.31" width="21.7" height="2.4" rx="0.6" fill="#242222"/>
<rect x="122.00" y="244.09" width="21.7" height="2.4" rx="0.6" fill="#242222"/>
<rect x="122.00" y="248.87" width="8.4" height="2.4" rx="0.6" fill="#242222"/>
<rect x="135.30" y="248.87" width="8.4" height="2.4" rx="0.6" fill="#242222"/>
<rect x="122.00" y="253.65" width="8.4" height="2.4" rx="0.6" fill="#242222"/>
<rect x="135.30" y="253.65" width="8.4" height="2.4" rx="0.6" fill="#242222"/>
<rect x="122.00" y="258.43" width="21.7" height="2.4" rx="0.6" fill="#242222"/>
<text x="163.38" y="258.23" font-size="11.6" font-weight="bold" fill="#2a2a2a" text-anchor="end">25</text>
<g transform="translate(156.30,226.22)" fill="none" stroke="#cdd59e" stroke-width="1.2" color="#cdd59e"><circle cx="0" cy="0" r="1.4" fill="currentColor" stroke="none"/></g>
<rect x="172.88" y="234.53" width="21.7" height="2.4" rx="0.6" fill="#242222"/>
<rect x="172.88" y="239.31" width="8.4" height="2.4" rx="0.6" fill="#242222"/>
<rect x="186.18" y="239.31" width="8.4" height="2.4" rx="0.6" fill="#242222"/>
<rect x="172.88" y="244.09" width="8.4" height="2.4" rx="0.6" fill="#242222"/>
<rect x="186.18" y="244.09" width="8.4" height="2.4" rx="0.6" fill="#242222"/>
<rect x="172.88" y="248.87" width="21.7" height="2.4" rx="0.6" fill="#242222"/>
<rect x="172.88" y="253.65" width="21.7" height="2.4" rx="0.6" fill="#242222"/>
<rect x="172.88" y="258.43" width="21.7" height="2.4" rx="0.6" fill="#242222"/>
<text x="216.15" y="258.23" font-size="11.6" font-weight="bold" fill="#2a2a2a" text-anchor="end">26</text>
<g transform="translate(207.47,226.22)" fill="none" stroke="#cdd59e" stroke-width="1.2" color="#cdd59e"><circle cx="0" cy="0" r="9.8"/><circle cx="0" cy="0" r="1.4" fill="currentColor" stroke="none"/></g>
<rect x="224.65" y="234.53" width="21.7" height="2.4" rx="0.6" fill="#242222"/>
<rect x="224.65" y="239.31" width="8.4" height="2.4" rx="0.6" fill="#242222"/>
<rect x="237.95" y="239.31" width="8.4" height="2.4" rx="0.6" fill="#242222"/>
<rect x="224.65" y="244.09" width="8.4" height="2.4" rx="0.6" fill="#242222"/>
<rect x="237.95" y="244.09" width="8.4" height="2.4" rx="0.6" fill="#242222"/>
<rect x="224.65" y="248.87" width="8.4" height="2.4" rx="0.6" fill="#242222"/>
<rect x="237.95" y="248.87" width="8.4" height="2.4" rx="0.6" fill="#242222"/>
<rect x="224.65" y="253.65" width="8.4" height="2.4" rx="0.6" fill="#242222"/>
<rect x="237.95" y="253.65" width="8.4" height="2.4" rx="0.6" fill="#242222"/>
<rect x="224.65" y="258.43" width="21.7" height="2.4" rx="0.6" fill="#242222"/>
<text x="267.12" y="258.23" font-size="11.6" font-weight="bold" fill="#2a2a2a" text-anchor="end">27</text>
<g transform="translate(259.55,226.22)" fill="none" stroke="#cdd59e" stroke-width="1.2" color="#cdd59e"><rect x="-9.8" y="-9.8" width="19.6" height="19.6"/><circle cx="0" cy="0" r="1.4" fill="currentColor" stroke="none"/></g>
<rect x="277.32" y="234.53" width="8.4" height="2.4" rx="0.6" fill="#242222"/>
<rect x="290.62" y="234.53" width="8.4" height="2.4" rx="0.6" fill="#242222"/>
<rect x="277.32" y="239.31" width="21.7" height="2.4" rx="0.6" fill="#242222"/>
<rect x="277.32" y="244.09" width="21.7" height="2.4" rx="0.6" fill="#242222"/>
<rect x="277.32" y="248.87" width="21.7" height="2.4" rx="0.6" fill="#242222"/>
<rect x="277.32" y="253.65" width="21.7" height="2.4" rx="0.6" fill="#242222"/>
<rect x="277.32" y="258.43" width="8.4" height="2.4" rx="0.6" fill="#242222"/>
<rect x="290.62" y="258.43" width="8.4" height="2.4" rx="0.6" fill="#242222"/>
<text x="320.60" y="258.23" font-size="11.6" font-weight="bold" fill="#2a2a2a" text-anchor="end">28</text>
<g transform="translate(312.62,226.22)" fill="none" stroke="#cdd59e" stroke-width="1.2" color="#cdd59e"><path d="M0,-8V8"/></g>
<rect x="327.90" y="234.53" width="8.4" height="2.4" rx="0.6" fill="#242222"/>
<rect x="341.20" y="234.53" width="8.4" height="2.4" rx="0.6" fill="#242222"/>
<rect x="327.90" y="239.31" width="21.7" height="2.4" rx="0.6" fill="#242222"/>
<rect x="327.90" y="244.09" width="8.4" height="2.4" rx="0.6" fill="#242222"/>
<rect x="341.20" y="244.09" width="8.4" height="2.4" rx="0.6" fill="#242222"/>
<rect x="327.90" y="248.87" width="8.4" height="2.4" rx="0.6" fill="#242222"/>
<rect x="341.20" y="248.87" width="8.4" height="2.4" rx="0.6" fill="#242222"/>
<rect x="327.90" y="253.65" width="21.7" height="2.4" rx="0.6" fill="#242222"/>
<rect x="327.90" y="258.43" width="8.4" height="2.4" rx="0.6" fill="#242222"/>
<rect x="341.20" y="258.43" width="8.4" height="2.4" rx="0.6" fill="#242222"/>
<text x="372.18" y="258.23" font-size="11.6" font-weight="bold" fill="#2a2a2a" text-anchor="end">29</text>
<g transform="translate(363.10,226.22)" fill="none" stroke="#cdd59e" stroke-width="1.2" color="#cdd59e"><circle cx="0" cy="0" r="9.8"/><path d="M0,-7.6V7.6"/></g>
<rect x="380.18" y="234.53" width="21.7" height="2.4" rx="0.6" fill="#242222"/>
<rect x="380.18" y="239.31" width="8.4" height="2.4" rx="0.6" fill="#242222"/>
<rect x="393.48" y="239.31" width="8.4" height="2.4" rx="0.6" fill="#242222"/>
<rect x="380.18" y="244.09" width="21.7" height="2.4" rx="0.6" fill="#242222"/>
<rect x="380.18" y="248.87" width="21.7" height="2.4" rx="0.6" fill="#242222"/>
<rect x="380.18" y="253.65" width="8.4" height="2.4" rx="0.6" fill="#242222"/>
<rect x="393.48" y="253.65" width="8.4" height="2.4" rx="0.6" fill="#242222"/>
<rect x="380.18" y="258.43" width="21.7" height="2.4" rx="0.6" fill="#242222"/>
<text x="423.85" y="258.23" font-size="11.6" font-weight="bold" fill="#2a2a2a" text-anchor="end">30</text>
<g transform="translate(415.68,226.22)" fill="none" stroke="#cdd59e" stroke-width="1.2" color="#cdd59e"><rect x="-9.8" y="-9.8" width="19.6" height="19.6"/><path d="M0,-7.6V7.6"/></g>
<rect x="432.25" y="234.53" width="8.4" height="2.4" rx="0.6" fill="#242222"/>
<rect x="445.55" y="234.53" width="8.4" height="2.4" rx="0.6" fill="#242222"/>
<rect x="432.25" y="239.31" width="21.7" height="2.4" rx="0.6" fill="#242222"/>
<rect x="432.25" y="244.09" width="21.7" height="2.4" rx="0.6" fill="#242222"/>
<rect x="432.25" y="248.87" width="21.7" height="2.4" rx="0.6" fill="#242222"/>
<rect x="432.25" y="253.65" width="8.4" height="2.4" rx="0.6" fill="#242222"/>
<rect x="445.55" y="253.65" width="8.4" height="2.4" rx="0.6" fill="#242222"/>
<rect x="432.25" y="258.43" width="8.4" height="2.4" rx="0.6" fill="#242222"/>
<rect x="445.55" y="258.43" width="8.4" height="2.4" rx="0.6" fill="#242222"/>
<text x="476.93" y="258.23" font-size="11.6" font-weight="bold" fill="#2a2a2a" text-anchor="end">31</text>
<g transform="translate(468.45,226.22)" fill="none" stroke="#cdd59e" stroke-width="1.2" color="#cdd59e"><circle cx="0" cy="0" r="9.8"/><path d="M-1.8,-7.5V7.5M1.8,-7.5V7.5"/></g>
<rect x="485.23" y="234.53" width="8.4" height="2.4" rx="0.6" fill="#242222"/>
<rect x="498.53" y="234.53" width="8.4" height="2.4" rx="0.6" fill="#242222"/>
<rect x="485.23" y="239.31" width="8.4" height="2.4" rx="0.6" fill="#242222"/>
<rect x="498.53" y="239.31" width="8.4" height="2.4" rx="0.6" fill="#242222"/>
<rect x="485.23" y="244.09" width="21.7" height="2.4" rx="0.6" fill="#242222"/>
<rect x="485.23" y="248.87" width="21.7" height="2.4" rx="0.6" fill="#242222"/>
<rect x="485.23" y="253.65" width="21.7" height="2.4" rx="0.6" fill="#242222"/>
<rect x="485.23" y="258.43" width="8.4" height="2.4" rx="0.6" fill="#242222"/>
<rect x="498.53" y="258.43" width="8.4" height="2.4" rx="0.6" fill="#242222"/>
<text x="528.60" y="258.23" font-size="11.6" font-weight="bold" fill="#2a2a2a" text-anchor="end">32</text>
<g transform="translate(518.42,226.22)" fill="none" stroke="#cdd59e" stroke-width="1.2" color="#cdd59e"><rect x="-9.8" y="-9.8" width="19.6" height="19.6"/><path d="M-1.8,-7.5V7.5M1.8,-7.5V7.5"/></g>
<rect x="122.00" y="285.00" width="21.7" height="2.4" rx="0.6" fill="#242222"/>
<rect x="122.00" y="289.78" width="21.7" height="2.4" rx="0.6" fill="#242222"/>
<rect x="122.00" y="294.56" width="21.7" height="2.4" rx="0.6" fill="#242222"/>
<rect x="122.00" y="299.34" width="21.7" height="2.4" rx="0.6" fill="#242222"/>
<rect x="122.00" y="304.12" width="8.4" height="2.4" rx="0.6" fill="#242222"/>
<rect x="135.30" y="304.12" width="8.4" height="2.4" rx="0.6" fill="#242222"/>
<rect x="122.00" y="308.90" width="8.4" height="2.4" rx="0.6" fill="#242222"/>
<rect x="135.30" y="308.90" width="8.4" height="2.4" rx="0.6" fill="#242222"/>
<text x="163.38" y="308.90" font-size="11.6" font-weight="bold" fill="#2a2a2a" text-anchor="end">33</text>
<g transform="translate(156.30,274.70)" fill="none" stroke="#4e5e52" stroke-width="1.3" color="#4e5e52"><path d="M-5.9,4.8V-4.8H0V4.8H5.9V-4.8"/></g>
<rect x="172.88" y="285.00" width="8.4" height="2.4" rx="0.6" fill="#242222"/>
<rect x="186.18" y="285.00" width="8.4" height="2.4" rx="0.6" fill="#242222"/>
<rect x="172.88" y="289.78" width="8.4" height="2.4" rx="0.6" fill="#242222"/>
<rect x="186.18" y="289.78" width="8.4" height="2.4" rx="0.6" fill="#242222"/>
<rect x="172.88" y="294.56" width="21.7" height="2.4" rx="0.6" fill="#242222"/>
<rect x="172.88" y="299.34" width="21.7" height="2.4" rx="0.6" fill="#242222"/>
<rect x="172.88" y="304.12" width="21.7" height="2.4" rx="0.6" fill="#242222"/>
<rect x="172.88" y="308.90" width="21.7" height="2.4" rx="0.6" fill="#242222"/>
<text x="216.15" y="308.90" font-size="11.6" font-weight="bold" fill="#2a2a2a" text-anchor="end">34</text>
<g transform="translate(207.47,274.70)" fill="none" stroke="#4e5e52" stroke-width="1.3" color="#4e5e52"><circle cx="0" cy="0" r="9.8"/><path d="M-5.9,4.8V-4.8H0V4.8H5.9V-4.8"/></g>
<rect x="224.65" y="285.00" width="21.7" height="2.4" rx="0.6" fill="#242222"/>
<rect x="224.65" y="289.78" width="8.4" height="2.4" rx="0.6" fill="#242222"/>
<rect x="237.95" y="289.78" width="8.4" height="2.4" rx="0.6" fill="#242222"/>
<rect x="224.65" y="294.56" width="21.7" height="2.4" rx="0.6" fill="#242222"/>
<rect x="224.65" y="299.34" width="8.4" height="2.4" rx="0.6" fill="#242222"/>
<rect x="237.95" y="299.34" width="8.4" height="2.4" rx="0.6" fill="#242222"/>
<rect x="224.65" y="304.12" width="8.4" height="2.4" rx="0.6" fill="#242222"/>
<rect x="237.95" y="304.12" width="8.4" height="2.4" rx="0.6" fill="#242222"/>
<rect x="224.65" y="308.90" width="8.4" height="2.4" rx="0.6" fill="#242222"/>
<rect x="237.95" y="308.90" width="8.4" height="2.4" rx="0.6" fill="#242222"/>
<text x="267.12" y="308.90" font-size="11.6" font-weight="bold" fill="#2a2a2a" text-anchor="end">35</text>
<g transform="translate(259.55,274.70)" fill="none" stroke="#4e5e52" stroke-width="1.3" color="#4e5e52"><rect x="-9.8" y="-9.8" width="19.6" height="19.6"/><path d="M-5.9,4.8V-4.8H0V4.8H5.9V-4.8"/></g>
<rect x="277.32" y="285.00" width="8.4" height="2.4" rx="0.6" fill="#242222"/>
<rect x="290.62" y="285.00" width="8.4" height="2.4" rx="0.6" fill="#242222"/>
<rect x="277.32" y="289.78" width="8.4" height="2.4" rx="0.6" fill="#242222"/>
<rect x="290.62" y="289.78" width="8.4" height="2.4" rx="0.6" fill="#242222"/>
<rect x="277.32" y="294.56" width="8.4" height="2.4" rx="0.6" fill="#242222"/>
<rect x="290.62" y="294.56" width="8.4" height="2.4" rx="0.6" fill="#242222"/>
<rect x="277.32" y="299.34" width="21.7" height="2.4" rx="0.6" fill="#242222"/>
<rect x="277.32" y="304.12" width="8.4" height="2.4" rx="0.6" fill="#242222"/>
<rect x="290.62" y="304.12" width="8.4" height="2.4" rx="0.6" fill="#242222"/>
<rect x="277.32" y="308.90" width="21.7" height="2.4" rx="0.6" fill="#242222"/>
<text x="320.60" y="308.90" font-size="11.6" font-weight="bold" fill="#2a2a2a" text-anchor="end">36</text>
<g transform="translate(312.62,274.70)" fill="none" stroke="#4e5e52" stroke-width="1.3" color="#4e5e52"><path d="M-5.9,-4.8V4.8H0V-4.8H5.9V4.8"/></g>
<rect x="327.90" y="285.00" width="21.7" height="2.4" rx="0.6" fill="#242222"/>
<rect x="327.90" y="289.78" width="21.7" height="2.4" rx="0.6" fill="#242222"/>
<rect x="327.90" y="294.56" width="8.4" height="2.4" rx="0.6" fill="#242222"/>
<rect x="341.20" y="294.56" width="8.4" height="2.4" rx="0.6" fill="#242222"/>
<rect x="327.90" y="299.34" width="21.7" height="2.4" rx="0.6" fill="#242222"/>
<rect x="327.90" y="304.12" width="8.4" height="2.4" rx="0.6" fill="#242222"/>
<rect x="341.20" y="304.12" width="8.4" height="2.4" rx="0.6" fill="#242222"/>
<rect x="327.90" y="308.90" width="21.7" height="2.4" rx="0.6" fill="#242222"/>
<text x="372.18" y="308.90" font-size="11.6" font-weight="bold" fill="#2a2a2a" text-anchor="end">37</text>
<g transform="translate(363.10,274.70)" fill="none" stroke="#4e5e52" stroke-width="1.3" color="#4e5e52"><circle cx="0" cy="0" r="9.8"/><path d="M-5.9,-4.8V4.8H0V-4.8H5.9V4.8"/></g>
<rect x="380.18" y="285.00" width="21.7" height="2.4" rx="0.6" fill="#242222"/>
<rect x="380.18" y="289.78" width="8.4" height="2.4" rx="0.6" fill="#242222"/>
<rect x="393.48" y="289.78" width="8.4" height="2.4" rx="0.6" fill="#242222"/>
<rect x="380.18" y="294.56" width="21.7" height="2.4" rx="0.6" fill="#242222"/>
<rect x="380.18" y="299.34" width="8.4" height="2.4" rx="0.6" fill="#242222"/>
<rect x="393.48" y="299.34" width="8.4" height="2.4" rx="0.6" fill="#242222"/>
<rect x="380.18" y="304.12" width="21.7" height="2.4" rx="0.6" fill="#242222"/>
<rect x="380.18" y="308.90" width="21.7" height="2.4" rx="0.6" fill="#242222"/>
<text x="423.85" y="308.90" font-size="11.6" font-weight="bold" fill="#2a2a2a" text-anchor="end">38</text>
<g transform="translate(415.68,274.70)" fill="none" stroke="#4e5e52" stroke-width="1.3" color="#4e5e52"><rect x="-9.8" y="-9.8" width="19.6" height="19.6"/><path d="M-5.9,-4.8V4.8H0V-4.8H5.9V4.8"/></g>
<rect x="432.25" y="285.00" width="8.4" height="2.4" rx="0.6" fill="#242222"/>
<rect x="445.55" y="285.00" width="8.4" height="2.4" rx="0.6" fill="#242222"/>
<rect x="432.25" y="289.78" width="21.7" height="2.4" rx="0.6" fill="#242222"/>
<rect x="432.25" y="294.56" width="8.4" height="2.4" rx="0.6" fill="#242222"/>
<rect x="445.55" y="294.56" width="8.4" height="2.4" rx="0.6" fill="#242222"/>
<rect x="432.25" y="299.34" width="21.7" height="2.4" rx="0.6" fill="#242222"/>
<rect x="432.25" y="304.12" width="8.4" height="2.4" rx="0.6" fill="#242222"/>
<rect x="445.55" y="304.12" width="8.4" height="2.4" rx="0.6" fill="#242222"/>
<rect x="432.25" y="308.90" width="8.4" height="2.4" rx="0.6" fill="#242222"/>
<rect x="445.55" y="308.90" width="8.4" height="2.4" rx="0.6" fill="#242222"/>
<text x="476.93" y="308.90" font-size="11.6" font-weight="bold" fill="#2a2a2a" text-anchor="end">39</text>
<g transform="translate(468.45,274.70)" fill="none" stroke="#4e5e52" stroke-width="1.3" color="#4e5e52"><circle cx="0" cy="0" r="9.8"/><path d="M-3.6,0H3.6M0,-3.6V3.6"/></g>
<rect x="485.23" y="285.00" width="8.4" height="2.4" rx="0.6" fill="#242222"/>
<rect x="498.53" y="285.00" width="8.4" height="2.4" rx="0.6" fill="#242222"/>
<rect x="485.23" y="289.78" width="8.4" height="2.4" rx="0.6" fill="#242222"/>
<rect x="498.53" y="289.78" width="8.4" height="2.4" rx="0.6" fill="#242222"/>
<rect x="485.23" y="294.56" width="21.7" height="2.4" rx="0.6" fill="#242222"/>
<rect x="485.23" y="299.34" width="8.4" height="2.4" rx="0.6" fill="#242222"/>
<rect x="498.53" y="299.34" width="8.4" height="2.4" rx="0.6" fill="#242222"/>
<rect x="485.23" y="304.12" width="21.7" height="2.4" rx="0.6" fill="#242222"/>
<rect x="485.23" y="308.90" width="8.4" height="2.4" rx="0.6" fill="#242222"/>
<rect x="498.53" y="308.90" width="8.4" height="2.4" rx="0.6" fill="#242222"/>
<text x="528.60" y="308.90" font-size="11.6" font-weight="bold" fill="#2a2a2a" text-anchor="end">40</text>
<g transform="translate(518.42,274.70)" fill="none" stroke="#4e5e52" stroke-width="1.3" color="#4e5e52"><rect x="-9.8" y="-9.8" width="19.6" height="19.6"/><path d="M-3.6,0H3.6M0,-3.6V3.6"/></g>
<rect x="122.00" y="333.48" width="21.7" height="2.4" rx="0.6" fill="#242222"/>
<rect x="122.00" y="338.25" width="8.4" height="2.4" rx="0.6" fill="#242222"/>
<rect x="135.30" y="338.25" width="8.4" height="2.4" rx="0.6" fill="#242222"/>
<rect x="122.00" y="343.04" width="8.4" height="2.4" rx="0.6" fill="#242222"/>
<rect x="135.30" y="343.04" width="8.4" height="2.4" rx="0.6" fill="#242222"/>
<rect x="122.00" y="347.81" width="8.4" height="2.4" rx="0.6" fill="#242222"/>
<rect x="135.30" y="347.81" width="8.4" height="2.4" rx="0.6" fill="#242222"/>
<rect x="122.00" y="352.60" width="21.7" height="2.4" rx="0.6" fill="#242222"/>
<rect x="122.00" y="357.38" width="21.7" height="2.4" rx="0.6" fill="#242222"/>
<text x="163.38" y="357.48" font-size="11.6" font-weight="bold" fill="#2a2a2a" text-anchor="end">41</text>
<g transform="translate(156.30,326.77)" fill="none" stroke="#52525e" stroke-width="1.3" color="#52525e"><path d="M-6.3,-6.5V6.5M-6.3,-0.5H6.3V6.5"/></g>
<rect x="172.88" y="333.48" width="21.7" height="2.4" rx="0.6" fill="#242222"/>
<rect x="172.88" y="338.25" width="21.7" height="2.4" rx="0.6" fill="#242222"/>
<rect x="172.88" y="343.04" width="8.4" height="2.4" rx="0.6" fill="#242222"/>
<rect x="186.18" y="343.04" width="8.4" height="2.4" rx="0.6" fill="#242222"/>
<rect x="172.88" y="347.81" width="8.4" height="2.4" rx="0.6" fill="#242222"/>
<rect x="186.18" y="347.81" width="8.4" height="2.4" rx="0.6" fill="#242222"/>
<rect x="172.88" y="352.60" width="8.4" height="2.4" rx="0.6" fill="#242222"/>
<rect x="186.18" y="352.60" width="8.4" height="2.4" rx="0.6" fill="#242222"/>
<rect x="172.88" y="357.38" width="21.7" height="2.4" rx="0.6" fill="#242222"/>
<text x="216.15" y="357.48" font-size="11.6" font-weight="bold" fill="#2a2a2a" text-anchor="end">42</text>
<g transform="translate(207.47,326.77)" fill="none" stroke="#52525e" stroke-width="1.3" color="#52525e"><circle cx="0" cy="0" r="9.8"/><path d="M-5.5,-6V6M-5.5,0H5.5V6"/></g>
<rect x="224.65" y="333.48" width="8.4" height="2.4" rx="0.6" fill="#242222"/>
<rect x="237.95" y="333.48" width="8.4" height="2.4" rx="0.6" fill="#242222"/>
<rect x="224.65" y="338.25" width="21.7" height="2.4" rx="0.6" fill="#242222"/>
<rect x="224.65" y="343.04" width="21.7" height="2.4" rx="0.6" fill="#242222"/>
<rect x="224.65" y="347.81" width="21.7" height="2.4" rx="0.6" fill="#242222"/>
<rect x="224.65" y="352.60" width="21.7" height="2.4" rx="0.6" fill="#242222"/>
<rect x="224.65" y="357.38" width="21.7" height="2.4" rx="0.6" fill="#242222"/>
<text x="267.12" y="357.48" font-size="11.6" font-weight="bold" fill="#2a2a2a" text-anchor="end">43</text>
<g transform="translate(259.55,326.77)" fill="none" stroke="#52525e" stroke-width="1.3" color="#52525e"><rect x="-9.8" y="-9.8" width="19.6" height="19.6"/><path d="M-5.5,-6V6M-5.5,0H5.5V6"/></g>
<rect x="277.32" y="333.48" width="21.7" height="2.4" rx="0.6" fill="#242222"/>
<rect x="277.32" y="338.25" width="21.7" height="2.4" rx="0.6" fill="#242222"/>
<rect x="277.32" y="343.04" width="21.7" height="2.4" rx="0.6" fill="#242222"/>
<rect x="277.32" y="347.81" width="21.7" height="2.4" rx="0.6" fill="#242222"/>
<rect x="277.32" y="352.60" width="21.7" height="2.4" rx="0.6" fill="#242222"/>
<rect x="277.32" y="357.38" width="8.4" height="2.4" rx="0.6" fill="#242222"/>
<rect x="290.62" y="357.38" width="8.4" height="2.4" rx="0.6" fill="#242222"/>
<text x="320.60" y="357.48" font-size="11.6" font-weight="bold" fill="#2a2a2a" text-anchor="end">44</text>
<g transform="translate(312.62,326.77)" fill="none" stroke="#52525e" stroke-width="1.3" color="#52525e"><path d="M-5.9,-6V6M-5.9,0.6H5.9V-6"/></g>
<rect x="327.90" y="333.48" width="8.4" height="2.4" rx="0.6" fill="#242222"/>
<rect x="341.20" y="333.48" width="8.4" height="2.4" rx="0.6" fill="#242222"/>
<rect x="327.90" y="338.25" width="21.7" height="2.4" rx="0.6" fill="#242222"/>
<rect x="327.90" y="343.04" width="21.7" height="2.4" rx="0.6" fill="#242222"/>
<rect x="327.90" y="347.81" width="8.4" height="2.4" rx="0.6" fill="#242222"/>
<rect x="341.20" y="347.81" width="8.4" height="2.4" rx="0.6" fill="#242222"/>
<rect x="327.90" y="352.60" width="8.4" height="2.4" rx="0.6" fill="#242222"/>
<rect x="341.20" y="352.60" width="8.4" height="2.4" rx="0.6" fill="#242222"/>
<rect x="327.90" y="357.38" width="8.4" height="2.4" rx="0.6" fill="#242222"/>
<rect x="341.20" y="357.38" width="8.4" height="2.4" rx="0.6" fill="#242222"/>
<text x="372.18" y="357.48" font-size="11.6" font-weight="bold" fill="#2a2a2a" text-anchor="end">45</text>
<g transform="translate(363.10,326.77)" fill="none" stroke="#52525e" stroke-width="1.3" color="#52525e"><circle cx="0" cy="0" r="9.8"/><path d="M-5,-5V6M-5,0.6H5.3V-5"/></g>
<rect x="380.18" y="333.48" width="8.4" height="2.4" rx="0.6" fill="#242222"/>
<rect x="393.48" y="333.48" width="8.4" height="2.4" rx="0.6" fill="#242222"/>
<rect x="380.18" y="338.25" width="8.4" height="2.4" rx="0.6" fill="#242222"/>
<rect x="393.48" y="338.25" width="8.4" height="2.4" rx="0.6" fill="#242222"/>
<rect x="380.18" y="343.04" width="8.4" height="2.4" rx="0.6" fill="#242222"/>
<rect x="393.48" y="343.04" width="8.4" height="2.4" rx="0.6" fill="#242222"/>
<rect x="380.18" y="347.81" width="21.7" height="2.4" rx="0.6" fill="#242222"/>
<rect x="380.18" y="352.60" width="21.7" height="2.4" rx="0.6" fill="#242222"/>
<rect x="380.18" y="357.38" width="8.4" height="2.4" rx="0.6" fill="#242222"/>
<rect x="393.48" y="357.38" width="8.4" height="2.4" rx="0.6" fill="#242222"/>
<text x="423.85" y="357.48" font-size="11.6" font-weight="bold" fill="#2a2a2a" text-anchor="end">46</text>
<g transform="translate(415.68,326.77)" fill="none" stroke="#52525e" stroke-width="1.3" color="#52525e"><rect x="-9.8" y="-9.8" width="19.6" height="19.6"/><path d="M-5,-5V6M-5,0.6H5.3V-5"/></g>
<rect x="432.25" y="333.48" width="8.4" height="2.4" rx="0.6" fill="#242222"/>
<rect x="445.55" y="333.48" width="8.4" height="2.4" rx="0.6" fill="#242222"/>
<rect x="432.25" y="338.25" width="21.7" height="2.4" rx="0.6" fill="#242222"/>
<rect x="432.25" y="343.04" width="21.7" height="2.4" rx="0.6" fill="#242222"/>
<rect x="432.25" y="347.81" width="8.4" height="2.4" rx="0.6" fill="#242222"/>
<rect x="445.55" y="347.81" width="8.4" height="2.4" rx="0.6" fill="#242222"/>
<rect x="432.25" y="352.60" width="21.7" height="2.4" rx="0.6" fill="#242222"/>
<rect x="432.25" y="357.38" width="8.4" height="2.4" rx="0.6" fill="#242222"/>
<rect x="445.55" y="357.38" width="8.4" height="2.4" rx="0.6" fill="#242222"/>
<text x="476.93" y="357.48" font-size="11.6" font-weight="bold" fill="#2a2a2a" text-anchor="end">47</text>
<g transform="translate(468.45,326.77)" fill="none" stroke="#52525e" stroke-width="1.3" color="#52525e"><path d="M-6.8,-5.3V5.3M6.8,-5.3V5.3M-6.8,0H6.8"/></g>
<rect x="485.23" y="333.48" width="8.4" height="2.4" rx="0.6" fill="#242222"/>
<rect x="498.53" y="333.48" width="8.4" height="2.4" rx="0.6" fill="#242222"/>
<rect x="485.23" y="338.25" width="21.7" height="2.4" rx="0.6" fill="#242222"/>
<rect x="485.23" y="343.04" width="8.4" height="2.4" rx="0.6" fill="#242222"/>
<rect x="498.53" y="343.04" width="8.4" height="2.4" rx="0.6" fill="#242222"/>
<rect x="485.23" y="347.81" width="21.7" height="2.4" rx="0.6" fill="#242222"/>
<rect x="485.23" y="352.60" width="21.7" height="2.4" rx="0.6" fill="#242222"/>
<rect x="485.23" y="357.38" width="8.4" height="2.4" rx="0.6" fill="#242222"/>
<rect x="498.53" y="357.38" width="8.4" height="2.4" rx="0.6" fill="#242222"/>
<text x="528.60" y="357.48" font-size="11.6" font-weight="bold" fill="#2a2a2a" text-anchor="end">48</text>
<g transform="translate(518.42,326.77)" fill="none" stroke="#52525e" stroke-width="1.3" color="#52525e"><circle cx="0" cy="0" r="9.8"/><path d="M-5.8,-6V6M5.8,-6V6M-5.8,0H5.8"/></g>
<rect x="122.00" y="383.90" width="8.4" height="2.4" rx="0.6" fill="#242222"/>
<rect x="135.30" y="383.90" width="8.4" height="2.4" rx="0.6" fill="#242222"/>
<rect x="122.00" y="388.68" width="21.7" height="2.4" rx="0.6" fill="#242222"/>
<rect x="122.00" y="393.46" width="21.7" height="2.4" rx="0.6" fill="#242222"/>
<rect x="122.00" y="398.24" width="21.7" height="2.4" rx="0.6" fill="#242222"/>
<rect x="122.00" y="403.02" width="8.4" height="2.4" rx="0.6" fill="#242222"/>
<rect x="135.30" y="403.02" width="8.4" height="2.4" rx="0.6" fill="#242222"/>
<rect x="122.00" y="407.80" width="21.7" height="2.4" rx="0.6" fill="#242222"/>
<text x="163.38" y="407.25" font-size="11.6" font-weight="bold" fill="#2a2a2a" text-anchor="end">49</text>
<g transform="translate(156.30,376.05)" fill="none" stroke="#664e5e" stroke-width="1.3" color="#664e5e"><path d="M-5.8,-4.4H5.8M-5.8,-6.4V-2.4M5.8,-6.4V-2.4M0,-4.4V7"/></g>
<rect x="172.88" y="383.90" width="21.7" height="2.4" rx="0.6" fill="#242222"/>
<rect x="172.88" y="388.68" width="8.4" height="2.4" rx="0.6" fill="#242222"/>
<rect x="186.18" y="388.68" width="8.4" height="2.4" rx="0.6" fill="#242222"/>
<rect x="172.88" y="393.46" width="21.7" height="2.4" rx="0.6" fill="#242222"/>
<rect x="172.88" y="398.24" width="21.7" height="2.4" rx="0.6" fill="#242222"/>
<rect x="172.88" y="403.02" width="21.7" height="2.4" rx="0.6" fill="#242222"/>
<rect x="172.88" y="407.80" width="8.4" height="2.4" rx="0.6" fill="#242222"/>
<rect x="186.18" y="407.80" width="8.4" height="2.4" rx="0.6" fill="#242222"/>
<text x="216.15" y="407.25" font-size="11.6" font-weight="bold" fill="#2a2a2a" text-anchor="end">50</text>
<g transform="translate(207.47,376.05)" fill="none" stroke="#664e5e" stroke-width="1.3" color="#664e5e"><circle cx="0" cy="0" r="9.8"/><path d="M-5.7,-4.1H5.8M-5.7,-6.1V-2.1M5.8,-6.1V-2.1M0,-4.1V6.8"/></g>
<rect x="224.65" y="383.90" width="8.4" height="2.4" rx="0.6" fill="#242222"/>
<rect x="237.95" y="383.90" width="8.4" height="2.4" rx="0.6" fill="#242222"/>
<rect x="224.65" y="388.68" width="8.4" height="2.4" rx="0.6" fill="#242222"/>
<rect x="237.95" y="388.68" width="8.4" height="2.4" rx="0.6" fill="#242222"/>
<rect x="224.65" y="393.46" width="21.7" height="2.4" rx="0.6" fill="#242222"/>
<rect x="224.65" y="398.24" width="8.4" height="2.4" rx="0.6" fill="#242222"/>
<rect x="237.95" y="398.24" width="8.4" height="2.4" rx="0.6" fill="#242222"/>
<rect x="224.65" y="403.02" width="8.4" height="2.4" rx="0.6" fill="#242222"/>
<rect x="237.95" y="403.02" width="8.4" height="2.4" rx="0.6" fill="#242222"/>
<rect x="224.65" y="407.80" width="21.7" height="2.4" rx="0.6" fill="#242222"/>
<text x="267.12" y="407.25" font-size="11.6" font-weight="bold" fill="#2a2a2a" text-anchor="end">51</text>
<g transform="translate(259.55,376.05)" fill="none" stroke="#664e5e" stroke-width="1.3" color="#664e5e"><rect x="-9.8" y="-9.8" width="19.6" height="19.6"/><path d="M-5.7,-4.1H5.8M-5.7,-6.1V-2.1M5.8,-6.1V-2.1M0,-4.1V6.8"/></g>
<rect x="277.32" y="383.90" width="21.7" height="2.4" rx="0.6" fill="#242222"/>
<rect x="277.32" y="388.68" width="8.4" height="2.4" rx="0.6" fill="#242222"/>
<rect x="290.62" y="388.68" width="8.4" height="2.4" rx="0.6" fill="#242222"/>
<rect x="277.32" y="393.46" width="8.4" height="2.4" rx="0.6" fill="#242222"/>
<rect x="290.62" y="393.46" width="8.4" height="2.4" rx="0.6" fill="#242222"/>
<rect x="277.32" y="398.24" width="21.7" height="2.4" rx="0.6" fill="#242222"/>
<rect x="277.32" y="403.02" width="8.4" height="2.4" rx="0.6" fill="#242222"/>
<rect x="290.62" y="403.02" width="8.4" height="2.4" rx="0.6" fill="#242222"/>
<rect x="277.32" y="407.80" width="8.4" height="2.4" rx="0.6" fill="#242222"/>
<rect x="290.62" y="407.80" width="8.4" height="2.4" rx="0.6" fill="#242222"/>
<text x="320.60" y="407.25" font-size="11.6" font-weight="bold" fill="#2a2a2a" text-anchor="end">52</text>
<g transform="translate(312.62,376.05)" fill="none" stroke="#664e5e" stroke-width="1.3" color="#664e5e"><path d="M-5.8,4.4H5.8M-5.8,6.4V2.4M5.8,6.4V2.4M0,4.4V-7"/></g>
<rect x="327.90" y="383.90" width="21.7" height="2.4" rx="0.6" fill="#242222"/>
<rect x="327.90" y="388.68" width="21.7" height="2.4" rx="0.6" fill="#242222"/>
<rect x="327.90" y="393.46" width="8.4" height="2.4" rx="0.6" fill="#242222"/>
<rect x="341.20" y="393.46" width="8.4" height="2.4" rx="0.6" fill="#242222"/>
<rect x="327.90" y="398.24" width="21.7" height="2.4" rx="0.6" fill="#242222"/>
<rect x="327.90" y="403.02" width="8.4" height="2.4" rx="0.6" fill="#242222"/>
<rect x="341.20" y="403.02" width="8.4" height="2.4" rx="0.6" fill="#242222"/>
<rect x="327.90" y="407.80" width="8.4" height="2.4" rx="0.6" fill="#242222"/>
<rect x="341.20" y="407.80" width="8.4" height="2.4" rx="0.6" fill="#242222"/>
<text x="372.18" y="407.25" font-size="11.6" font-weight="bold" fill="#2a2a2a" text-anchor="end">53</text>
<g transform="translate(363.10,376.05)" fill="none" stroke="#664e5e" stroke-width="1.3" color="#664e5e"><circle cx="0" cy="0" r="9.8"/><path d="M-5.7,4.1H5.8M-5.7,6.1V2.1M5.8,6.1V2.1M0,4.1V-6.8"/></g>
<rect x="380.18" y="383.90" width="8.4" height="2.4" rx="0.6" fill="#242222"/>
<rect x="393.48" y="383.90" width="8.4" height="2.4" rx="0.6" fill="#242222"/>
<rect x="380.18" y="388.68" width="8.4" height="2.4" rx="0.6" fill="#242222"/>
<rect x="393.48" y="388.68" width="8.4" height="2.4" rx="0.6" fill="#242222"/>
<rect x="380.18" y="393.46" width="21.7" height="2.4" rx="0.6" fill="#242222"/>
<rect x="380.18" y="398.24" width="8.4" height="2.4" rx="0.6" fill="#242222"/>
<rect x="393.48" y="398.24" width="8.4" height="2.4" rx="0.6" fill="#242222"/>
<rect x="380.18" y="403.02" width="21.7" height="2.4" rx="0.6" fill="#242222"/>
<rect x="380.18" y="407.80" width="21.7" height="2.4" rx="0.6" fill="#242222"/>
<text x="423.85" y="407.25" font-size="11.6" font-weight="bold" fill="#2a2a2a" text-anchor="end">54</text>
<g transform="translate(415.68,376.05)" fill="none" stroke="#664e5e" stroke-width="1.3" color="#664e5e"><rect x="-9.8" y="-9.8" width="19.6" height="19.6"/><path d="M-5.7,4.1H5.8M-5.7,6.1V2.1M5.8,6.1V2.1M0,4.1V-6.8"/></g>
<rect x="432.25" y="383.90" width="8.4" height="2.4" rx="0.6" fill="#242222"/>
<rect x="445.55" y="383.90" width="8.4" height="2.4" rx="0.6" fill="#242222"/>
<rect x="432.25" y="388.68" width="8.4" height="2.4" rx="0.6" fill="#242222"/>
<rect x="445.55" y="388.68" width="8.4" height="2.4" rx="0.6" fill="#242222"/>
<rect x="432.25" y="393.46" width="21.7" height="2.4" rx="0.6" fill="#242222"/>
<rect x="432.25" y="398.24" width="21.7" height="2.4" rx="0.6" fill="#242222"/>
<rect x="432.25" y="403.02" width="8.4" height="2.4" rx="0.6" fill="#242222"/>
<rect x="445.55" y="403.02" width="8.4" height="2.4" rx="0.6" fill="#242222"/>
<rect x="432.25" y="407.80" width="21.7" height="2.4" rx="0.6" fill="#242222"/>
<text x="476.93" y="407.25" font-size="11.6" font-weight="bold" fill="#2a2a2a" text-anchor="end">55</text>
<g transform="translate(468.45,376.05)" fill="none" stroke="#664e5e" stroke-width="1.3" color="#664e5e"><path d="M-5.8,-4.4H5.8M-5.8,-6.9V-1.9M5.8,-6.9V-1.9M-5.8,4.4H5.8M-5.8,6.9V1.9M5.8,6.9V1.9M0,-4.4V4.4"/></g>
<rect x="485.23" y="383.90" width="21.7" height="2.4" rx="0.6" fill="#242222"/>
<rect x="485.23" y="388.68" width="8.4" height="2.4" rx="0.6" fill="#242222"/>
<rect x="498.53" y="388.68" width="8.4" height="2.4" rx="0.6" fill="#242222"/>
<rect x="485.23" y="393.46" width="21.7" height="2.4" rx="0.6" fill="#242222"/>
<rect x="485.23" y="398.24" width="21.7" height="2.4" rx="0.6" fill="#242222"/>
<rect x="485.23" y="403.02" width="8.4" height="2.4" rx="0.6" fill="#242222"/>
<rect x="498.53" y="403.02" width="8.4" height="2.4" rx="0.6" fill="#242222"/>
<rect x="485.23" y="407.80" width="8.4" height="2.4" rx="0.6" fill="#242222"/>
<rect x="498.53" y="407.80" width="8.4" height="2.4" rx="0.6" fill="#242222"/>
<text x="528.60" y="407.25" font-size="11.6" font-weight="bold" fill="#2a2a2a" text-anchor="end">56</text>
<g transform="translate(518.42,376.05)" fill="none" stroke="#664e5e" stroke-width="1.3" color="#664e5e"><circle cx="0" cy="0" r="9.8"/><path d="M-5.8,-3.75H5.8M-5.8,-6V-1.5M5.8,-6V-1.5M-5.8,3.75H5.8M-5.8,6V1.5M5.8,6V1.5M0,-3.75V3.75"/></g>
<rect x="122.00" y="432.23" width="21.7" height="2.4" rx="0.6" fill="#242222"/>
<rect x="122.00" y="437.00" width="21.7" height="2.4" rx="0.6" fill="#242222"/>
<rect x="122.00" y="441.79" width="8.4" height="2.4" rx="0.6" fill="#242222"/>
<rect x="135.30" y="441.79" width="8.4" height="2.4" rx="0.6" fill="#242222"/>
<rect x="122.00" y="446.56" width="21.7" height="2.4" rx="0.6" fill="#242222"/>
<rect x="122.00" y="451.35" width="21.7" height="2.4" rx="0.6" fill="#242222"/>
<rect x="122.00" y="456.12" width="8.4" height="2.4" rx="0.6" fill="#242222"/>
<rect x="135.30" y="456.12" width="8.4" height="2.4" rx="0.6" fill="#242222"/>
<text x="163.38" y="457.73" font-size="11.6" font-weight="bold" fill="#2a2a2a" text-anchor="end">57</text>
<g transform="translate(156.30,425.23)" fill="none" stroke="#d4c0d0" stroke-width="1.2" color="#d4c0d0"><circle cx="0" cy="0" r="6.8"/><circle cx="0" cy="0" r="1.4" fill="currentColor" stroke="none"/></g>
<rect x="172.88" y="432.23" width="8.4" height="2.4" rx="0.6" fill="#242222"/>
<rect x="186.18" y="432.23" width="8.4" height="2.4" rx="0.6" fill="#242222"/>
<rect x="172.88" y="437.00" width="21.7" height="2.4" rx="0.6" fill="#242222"/>
<rect x="172.88" y="441.79" width="21.7" height="2.4" rx="0.6" fill="#242222"/>
<rect x="172.88" y="446.56" width="8.4" height="2.4" rx="0.6" fill="#242222"/>
<rect x="186.18" y="446.56" width="8.4" height="2.4" rx="0.6" fill="#242222"/>
<rect x="172.88" y="451.35" width="21.7" height="2.4" rx="0.6" fill="#242222"/>
<rect x="172.88" y="456.12" width="21.7" height="2.4" rx="0.6" fill="#242222"/>
<text x="216.15" y="457.73" font-size="11.6" font-weight="bold" fill="#2a2a2a" text-anchor="end">58</text>
<g transform="translate(207.47,425.23)" fill="none" stroke="#d4c0d0" stroke-width="1.2" color="#d4c0d0"><circle cx="0" cy="0" r="9.8"/><circle cx="0" cy="0" r="5.5"/><circle cx="0" cy="0" r="1.4" fill="currentColor" stroke="none"/></g>
<rect x="224.65" y="432.23" width="21.7" height="2.4" rx="0.6" fill="#242222"/>
<rect x="224.65" y="437.00" width="21.7" height="2.4" rx="0.6" fill="#242222"/>
<rect x="224.65" y="441.79" width="8.4" height="2.4" rx="0.6" fill="#242222"/>
<rect x="237.95" y="441.79" width="8.4" height="2.4" rx="0.6" fill="#242222"/>
<rect x="224.65" y="446.56" width="8.4" height="2.4" rx="0.6" fill="#242222"/>
<rect x="237.95" y="446.56" width="8.4" height="2.4" rx="0.6" fill="#242222"/>
<rect x="224.65" y="451.35" width="21.7" height="2.4" rx="0.6" fill="#242222"/>
<rect x="224.65" y="456.12" width="8.4" height="2.4" rx="0.6" fill="#242222"/>
<rect x="237.95" y="456.12" width="8.4" height="2.4" rx="0.6" fill="#242222"/>
<text x="267.12" y="457.73" font-size="11.6" font-weight="bold" fill="#2a2a2a" text-anchor="end">59</text>
<g transform="translate(259.55,425.23)" fill="none" stroke="#d4c0d0" stroke-width="1.2" color="#d4c0d0"><rect x="-9.5" y="-9.5" width="19.0" height="19.0"/><circle cx="0" cy="0" r="5.8"/><circle cx="0" cy="0" r="1.4" fill="currentColor" stroke="none"/></g>
<rect x="277.32" y="432.23" width="8.4" height="2.4" rx="0.6" fill="#242222"/>
<rect x="290.62" y="432.23" width="8.4" height="2.4" rx="0.6" fill="#242222"/>
<rect x="277.32" y="437.00" width="21.7" height="2.4" rx="0.6" fill="#242222"/>
<rect x="277.32" y="441.79" width="8.4" height="2.4" rx="0.6" fill="#242222"/>
<rect x="290.62" y="441.79" width="8.4" height="2.4" rx="0.6" fill="#242222"/>
<rect x="277.32" y="446.56" width="8.4" height="2.4" rx="0.6" fill="#242222"/>
<rect x="290.62" y="446.56" width="8.4" height="2.4" rx="0.6" fill="#242222"/>
<rect x="277.32" y="451.35" width="21.7" height="2.4" rx="0.6" fill="#242222"/>
<rect x="277.32" y="456.12" width="21.7" height="2.4" rx="0.6" fill="#242222"/>
<text x="320.60" y="457.73" font-size="11.6" font-weight="bold" fill="#2a2a2a" text-anchor="end">60</text>
<g transform="translate(312.62,425.23)" fill="none" stroke="#d4c0d0" stroke-width="1.2" color="#d4c0d0"><rect x="-6.3" y="-6.3" width="12.6" height="12.6"/><circle cx="0" cy="0" r="1.4" fill="currentColor" stroke="none"/></g>
<rect x="327.90" y="432.23" width="21.7" height="2.4" rx="0.6" fill="#242222"/>
<rect x="327.90" y="437.00" width="21.7" height="2.4" rx="0.6" fill="#242222"/>
<rect x="327.90" y="441.79" width="8.4" height="2.4" rx="0.6" fill="#242222"/>
<rect x="341.20" y="441.79" width="8.4" height="2.4" rx="0.6" fill="#242222"/>
<rect x="327.90" y="446.56" width="8.4" height="2.4" rx="0.6" fill="#242222"/>
<rect x="341.20" y="446.56" width="8.4" height="2.4" rx="0.6" fill="#242222"/>
<rect x="327.90" y="451.35" width="21.7" height="2.4" rx="0.6" fill="#242222"/>
<rect x="327.90" y="456.12" width="21.7" height="2.4" rx="0.6" fill="#242222"/>
<text x="372.18" y="457.73" font-size="11.6" font-weight="bold" fill="#2a2a2a" text-anchor="end">61</text>
<g transform="translate(363.10,425.23)" fill="none" stroke="#d4c0d0" stroke-width="1.2" color="#d4c0d0"><circle cx="0" cy="0" r="10.3"/><rect x="-5.8" y="-5.8" width="11.6" height="11.6"/><circle cx="0" cy="0" r="1.4" fill="currentColor" stroke="none"/></g>
<rect x="380.18" y="432.23" width="8.4" height="2.4" rx="0.6" fill="#242222"/>
<rect x="393.48" y="432.23" width="8.4" height="2.4" rx="0.6" fill="#242222"/>
<rect x="380.18" y="437.00" width="8.4" height="2.4" rx="0.6" fill="#242222"/>
<rect x="393.48" y="437.00" width="8.4" height="2.4" rx="0.6" fill="#242222"/>
<rect x="380.18" y="441.79" width="21.7" height="2.4" rx="0.6" fill="#242222"/>
<rect x="380.18" y="446.56" width="21.7" height="2.4" rx="0.6" fill="#242222"/>
<rect x="380.18" y="451.35" width="8.4" height="2.4" rx="0.6" fill="#242222"/>
<rect x="393.48" y="451.35" width="8.4" height="2.4" rx="0.6" fill="#242222"/>
<rect x="380.18" y="456.12" width="8.4" height="2.4" rx="0.6" fill="#242222"/>
<rect x="393.48" y="456.12" width="8.4" height="2.4" rx="0.6" fill="#242222"/>
<text x="423.85" y="457.73" font-size="11.6" font-weight="bold" fill="#2a2a2a" text-anchor="end">62</text>
<g transform="translate(415.68,425.23)" fill="none" stroke="#d4c0d0" stroke-width="1.2" color="#d4c0d0"><rect x="-10" y="-10" width="20" height="20"/><rect x="-5.5" y="-5.5" width="11.0" height="11.0"/><circle cx="0" cy="0" r="1.4" fill="currentColor" stroke="none"/></g>
<rect x="432.25" y="432.23" width="8.4" height="2.4" rx="0.6" fill="#242222"/>
<rect x="445.55" y="432.23" width="8.4" height="2.4" rx="0.6" fill="#242222"/>
<rect x="432.25" y="437.00" width="21.7" height="2.4" rx="0.6" fill="#242222"/>
<rect x="432.25" y="441.79" width="8.4" height="2.4" rx="0.6" fill="#242222"/>
<rect x="445.55" y="441.79" width="8.4" height="2.4" rx="0.6" fill="#242222"/>
<rect x="432.25" y="446.56" width="21.7" height="2.4" rx="0.6" fill="#242222"/>
<rect x="432.25" y="451.35" width="8.4" height="2.4" rx="0.6" fill="#242222"/>
<rect x="445.55" y="451.35" width="8.4" height="2.4" rx="0.6" fill="#242222"/>
<rect x="432.25" y="456.12" width="21.7" height="2.4" rx="0.6" fill="#242222"/>
<text x="476.93" y="457.73" font-size="11.6" font-weight="bold" fill="#2a2a2a" text-anchor="end">63</text>
<g transform="translate(468.45,425.23)" fill="none" stroke="#d4c0d0" stroke-width="1.2" color="#d4c0d0"><circle cx="0" cy="0" r="6.5"/><path d="M-10.2,0H10.2"/></g>
<rect x="485.23" y="432.23" width="21.7" height="2.4" rx="0.6" fill="#242222"/>
<rect x="485.23" y="437.00" width="8.4" height="2.4" rx="0.6" fill="#242222"/>
<rect x="498.53" y="437.00" width="8.4" height="2.4" rx="0.6" fill="#242222"/>
<rect x="485.23" y="441.79" width="21.7" height="2.4" rx="0.6" fill="#242222"/>
<rect x="485.23" y="446.56" width="8.4" height="2.4" rx="0.6" fill="#242222"/>
<rect x="498.53" y="446.56" width="8.4" height="2.4" rx="0.6" fill="#242222"/>
<rect x="485.23" y="451.35" width="21.7" height="2.4" rx="0.6" fill="#242222"/>
<rect x="485.23" y="456.12" width="8.4" height="2.4" rx="0.6" fill="#242222"/>
<rect x="498.53" y="456.12" width="8.4" height="2.4" rx="0.6" fill="#242222"/>
<text x="528.60" y="457.73" font-size="11.6" font-weight="bold" fill="#2a2a2a" text-anchor="end">64</text>
<g transform="translate(518.42,425.23)" fill="none" stroke="#d4c0d0" stroke-width="1.2" color="#d4c0d0"><circle cx="0" cy="0" r="6.5"/><path d="M0,-10.2V10.2"/></g>
<line x1="117.5" y1="113.38" x2="532.5" y2="113.38" stroke="#444444" stroke-width="1.9"/>
<line x1="117.5" y1="163.25" x2="532.5" y2="163.25" stroke="#444444" stroke-width="1.9"/>
<line x1="117.5" y1="213.12" x2="532.5" y2="213.12" stroke="#444444" stroke-width="1.9"/>
<line x1="117.5" y1="263.00" x2="532.5" y2="263.00" stroke="#444444" stroke-width="1.9"/>
<line x1="117.5" y1="312.88" x2="532.5" y2="312.88" stroke="#444444" stroke-width="1.9"/>
<line x1="117.5" y1="362.75" x2="532.5" y2="362.75" stroke="#444444" stroke-width="1.9"/>
<line x1="117.5" y1="412.62" x2="532.5" y2="412.62" stroke="#444444" stroke-width="1.9"/>
<line x1="169.38" y1="63.5" x2="169.38" y2="462.5" stroke="#555555" stroke-width="1.7"/>
<line x1="221.25" y1="63.5" x2="221.25" y2="462.5" stroke="#3e5290" stroke-width="2.2"/>
<line x1="273.12" y1="63.5" x2="273.12" y2="462.5" stroke="#4c5e4c" stroke-width="2.4"/>
<line x1="325.00" y1="63.5" x2="325.00" y2="462.5" stroke="#4a4a4a" stroke-width="1.7"/>
<line x1="376.88" y1="63.5" x2="376.88" y2="462.5" stroke="#555555" stroke-width="1.7"/>
<line x1="428.75" y1="63.5" x2="428.75" y2="462.5" stroke="#3c5656" stroke-width="2.6"/>
<line x1="480.62" y1="63.5" x2="480.62" y2="462.5" stroke="#5c5c50" stroke-width="1.7"/>
<line x1="273.125" y1="462.5" x2="273.125" y2="494" stroke="#5c6a5c" stroke-width="2.2"/>
<line x1="428.75" y1="462.5" x2="428.75" y2="494" stroke="#5c6a5c" stroke-width="2.4"/>
<line x1="117.8" y1="462.5" x2="117.8" y2="494.5" stroke="#dc6a72" stroke-width="2.2"/>
<line x1="532.5" y1="462.5" x2="532.5" y2="494.5" stroke="#dc6a72" stroke-width="2.2"/>
<line x1="117.6" y1="63.5" x2="117.6" y2="163.3" stroke="#dc6a72" stroke-width="2.2"/>
<line x1="117.6" y1="163.3" x2="117.6" y2="362.8" stroke="#3e3e78" stroke-width="2"/>
<line x1="117.6" y1="362.8" x2="117.6" y2="462.5" stroke="#dc6a72" stroke-width="2.2"/>
<line x1="41.3" y1="64.1" x2="644" y2="64.1" stroke="#dc646e" stroke-width="2.6"/>
<line x1="41.3" y1="462.9" x2="644" y2="462.9" stroke="#dc646e" stroke-width="2.6"/>
<g stroke="#333" stroke-width="1.9">
<line x1="118.2" y1="37.5" x2="118.2" y2="63"/>
<line x1="221.1" y1="37.5" x2="221.1" y2="63"/>
<line x1="325.4" y1="37.5" x2="325.4" y2="63"/>
<line x1="428.7" y1="37.5" x2="428.7" y2="63"/>
<line x1="532.8" y1="37.5" x2="532.8" y2="63"/>
</g>
<circle cx="168.60" cy="42.1" r="2.3" fill="#333"/>
<circle cx="270.10" cy="42.1" r="2.3" fill="#333"/><circle cx="276.30" cy="42.1" r="2.3" fill="#333"/>
<circle cx="370.80" cy="42.1" r="2.3" fill="#333"/><circle cx="377.00" cy="42.1" r="2.3" fill="#333"/><circle cx="383.20" cy="42.1" r="2.3" fill="#333"/>
<circle cx="471.20" cy="42.1" r="2.3" fill="#333"/><circle cx="477.40" cy="42.1" r="2.3" fill="#333"/><circle cx="483.60" cy="42.1" r="2.3" fill="#333"/><circle cx="489.80" cy="42.1" r="2.3" fill="#333"/>
<text x="171.5" y="29.3" font-size="17" font-weight="bold" fill="#3a3a3a" text-anchor="start" textLength="322" lengthAdjust="spacingAndGlyphs" >Os 64 Códons - Os 8 Filamentos Rúnicos</text>
<text x="136.4" y="57.8" font-size="12" font-weight="bold" fill="#333" text-anchor="start" textLength="62.6" lengthAdjust="spacingAndGlyphs" >Generativo</text>
<text x="273" y="57.8" font-size="12" font-weight="bold" fill="#333" text-anchor="middle" textLength="33" lengthAdjust="spacingAndGlyphs" >Ponte</text>
<text x="375.2" y="57.8" font-size="12" font-weight="bold" fill="#333" text-anchor="middle" textLength="38.7" lengthAdjust="spacingAndGlyphs" >Clímax</text>
<text x="484.5" y="57.8" font-size="12" font-weight="bold" fill="#333" text-anchor="middle" textLength="83.8" lengthAdjust="spacingAndGlyphs" >Síntese Binária</text>
<g stroke="#dc6a72" stroke-width="1.9" fill="none">
<line x1="42.3" y1="63.6" x2="42.3" y2="182"/>
<line x1="42.3" y1="323" x2="42.3" y2="463.5"/>
</g>
<g stroke="#45457a" stroke-width="1.7" fill="none">
<path d="M62,173V164H117.6"/>
<path d="M62,354V362.8H117.6"/>
</g>
<circle cx="99.20" cy="88.3" r="2.3" fill="#333"/>
<circle cx="95.70" cy="143.4" r="2.3" fill="#333"/><circle cx="102.30" cy="143.4" r="2.3" fill="#333"/>
<circle cx="92.90" cy="192.2" r="2.3" fill="#333"/><circle cx="98.90" cy="192.2" r="2.3" fill="#333"/><circle cx="104.90" cy="192.2" r="2.3" fill="#333"/>
<circle cx="90.17" cy="241.1" r="2.3" fill="#333"/><circle cx="96.12" cy="241.1" r="2.3" fill="#333"/><circle cx="102.08" cy="241.1" r="2.3" fill="#333"/><circle cx="108.03" cy="241.1" r="2.3" fill="#333"/>
<rect x="88.2" y="284.9" width="22.6" height="3" rx="1.5" fill="#333"/>
<circle cx="99.00" cy="342.2" r="2.3" fill="#333"/>
<rect x="88.2" y="346.4" width="22.6" height="3" rx="1.5" fill="#333"/>
<circle cx="95.30" cy="390.3" r="2.3" fill="#333"/><circle cx="102.30" cy="390.3" r="2.3" fill="#333"/>
<rect x="88.1" y="393.9" width="23" height="3" rx="1.5" fill="#333"/>
<circle cx="93.10" cy="440.2" r="2.3" fill="#333"/><circle cx="99.20" cy="440.2" r="2.3" fill="#333"/><circle cx="105.30" cy="440.2" r="2.3" fill="#333"/>
<rect x="88.1" y="444.5" width="23" height="3" rx="1.5" fill="#333"/>
<text transform="translate(48.6,317.4) rotate(-90)" font-size="15.4" font-weight="bold" fill="#333" textLength="130" lengthAdjust="spacingAndGlyphs">Modo de Conduta</text>
<text transform="translate(65.9,352) rotate(-90)" font-size="14" font-weight="bold" fill="#333" textLength="178" lengthAdjust="spacingAndGlyphs">Modo do Poder de Manejo</text>
<rect x="532.5" y="63" width="111.5" height="100.5" fill="#e0476b"/>
<rect x="532.5" y="362.5" width="111.5" height="101" fill="#e06478"/>
<rect x="534.7" y="113.2" width="106" height="48.8" fill="#4b8fe3"/>
<rect x="532.5" y="163.3" width="111" height="199.5" fill="#3a3352"/>
<rect x="534.7" y="165" width="106.8" height="47.6" fill="#f2a24c"/>
<rect x="534.7" y="212.6" width="106.8" height="50.4" fill="#8ec742"/>
<rect x="534.7" y="263" width="106.8" height="49" fill="#3f7c3d"/>
<rect x="534.7" y="312" width="106.8" height="50.5" fill="#4b4d9e"/>
<rect x="534.7" y="364.4" width="106.8" height="47.2" fill="#9d3c88"/>
<rect x="534.7" y="411.6" width="106.8" height="49" fill="#e2b2dc"/>
<text x="588.2" y="86.6" font-size="11.6" font-weight="normal" fill="#f6dde4" text-anchor="middle" textLength="86" lengthAdjust="spacingAndGlyphs" stroke="#f6dde4" stroke-width="0.45">Modo da Árvore</text>
<text x="588.2" y="102" font-size="11.6" font-weight="normal" fill="#f6dde4" text-anchor="middle" textLength="95" lengthAdjust="spacingAndGlyphs" stroke="#f6dde4" stroke-width="0.45">(Criação Cósmica)</text>
<text x="588.2" y="140.2" font-size="11.6" font-weight="normal" fill="#eaf2fc" text-anchor="middle" textLength="96.5" lengthAdjust="spacingAndGlyphs" stroke="#eaf2fc" stroke-width="0.45">Modo de Conduta</text>
<text x="588.2" y="186.5" font-size="11.6" font-weight="normal" fill="#fbe2bc" text-anchor="middle" textLength="48.3" lengthAdjust="spacingAndGlyphs" stroke="#fbe2bc" stroke-width="0.45">Modo do</text>
<text x="588.2" y="201.6" font-size="11.6" font-weight="normal" fill="#fbe2bc" text-anchor="middle" textLength="89.5" lengthAdjust="spacingAndGlyphs" stroke="#fbe2bc" stroke-width="0.45">Poder de Manejo</text>
<text x="588.2" y="226" font-size="11.6" font-weight="normal" fill="#eef7dc" text-anchor="middle" textLength="88.5" lengthAdjust="spacingAndGlyphs" stroke="#eef7dc" stroke-width="0.45">Modo do Quarto</text>
<text x="588.2" y="241.5" font-size="11.6" font-weight="normal" fill="#eef7dc" text-anchor="middle" textLength="75" lengthAdjust="spacingAndGlyphs" stroke="#eef7dc" stroke-width="0.45">Transcendente</text>
<text x="588.2" y="256.7" font-size="11.6" font-weight="normal" fill="#eef7dc" text-anchor="middle" textLength="106" lengthAdjust="spacingAndGlyphs" stroke="#eef7dc" stroke-width="0.45">(Consciência Cósmica)</text>
<text x="588.2" y="276.8" font-size="11.6" font-weight="normal" fill="#eaf2e8" text-anchor="middle" textLength="88.5" lengthAdjust="spacingAndGlyphs" stroke="#eaf2e8" stroke-width="0.45">Modo do Quinto</text>
<text x="588.2" y="293" font-size="11.6" font-weight="normal" fill="#eaf2e8" text-anchor="middle" textLength="51.8" lengthAdjust="spacingAndGlyphs" stroke="#eaf2e8" stroke-width="0.45">Irresistível</text>
<text x="588.2" y="307.8" font-size="11.6" font-weight="normal" fill="#eaf2e8" text-anchor="middle" textLength="93" lengthAdjust="spacingAndGlyphs" stroke="#eaf2e8" stroke-width="0.45">(Ordem Cósmica)</text>
<text x="588.2" y="327.2" font-size="11.6" font-weight="normal" fill="#ececf6" text-anchor="middle" textLength="47.3" lengthAdjust="spacingAndGlyphs" stroke="#ececf6" stroke-width="0.45">Modo da</text>
<text x="588.2" y="340.8" font-size="11.6" font-weight="normal" fill="#ececf6" text-anchor="middle" textLength="105.3" lengthAdjust="spacingAndGlyphs" stroke="#ececf6" stroke-width="0.45">Construção Dinâmica</text>
<text x="588.2" y="383.7" font-size="11.6" font-weight="normal" fill="#f6e6f2" text-anchor="middle" textLength="48.3" lengthAdjust="spacingAndGlyphs" stroke="#f6e6f2" stroke-width="0.45">Modo do</text>
<text x="588.2" y="398.8" font-size="11.6" font-weight="normal" fill="#f6e6f2" text-anchor="middle" textLength="44.2" lengthAdjust="spacingAndGlyphs" stroke="#f6e6f2" stroke-width="0.45">Telepata</text>
<text x="588.2" y="431.3" font-size="11.6" font-weight="normal" fill="#fbf0fa" text-anchor="middle" textLength="48" lengthAdjust="spacingAndGlyphs" stroke="#fbf0fa" stroke-width="0.45">Modo da</text>
<text x="588.2" y="447.2" font-size="11.6" font-weight="normal" fill="#fbf0fa" text-anchor="middle" textLength="84.8" lengthAdjust="spacingAndGlyphs" stroke="#fbf0fa" stroke-width="0.45">Oitava Galáctica</text>
<circle cx="193.60" cy="469" r="2.3" fill="#333"/>
<circle cx="347.80" cy="468.7" r="2.3" fill="#333"/><circle cx="354.80" cy="468.7" r="2.3" fill="#333"/>
<circle cx="476.40" cy="468.7" r="2.3" fill="#333"/><circle cx="482.40" cy="468.7" r="2.3" fill="#333"/><circle cx="488.40" cy="468.7" r="2.3" fill="#333"/>
<text x="192.4" y="486.5" font-size="12" font-weight="bold" fill="#333" text-anchor="middle" textLength="48.4" lengthAdjust="spacingAndGlyphs" >Primário</text>
<text x="348.8" y="486.3" font-size="12" font-weight="bold" fill="#333" text-anchor="middle" textLength="78.4" lengthAdjust="spacingAndGlyphs" >Transformado</text>
<text x="488.3" y="486" font-size="12" font-weight="bold" fill="#333" text-anchor="middle" textLength="40.6" lengthAdjust="spacingAndGlyphs" >Síntese</text>
<text x="110.6" y="477.6" font-size="12" font-weight="bold" fill="#333" text-anchor="end" textLength="58.6" lengthAdjust="spacingAndGlyphs" >Código do</text>
<text x="110.6" y="489.9" font-size="12" font-weight="bold" fill="#333" text-anchor="end" textLength="84.9" lengthAdjust="spacingAndGlyphs" >Triplete Rúnico</text>
<ellipse cx="454.9" cy="89.2" rx="41.7" ry="40.4" fill="none" stroke="#0a0a0a" stroke-width="5.9"/>
<rect x="734.4" y="31.90" width="38.5" height="2.6" fill="#111"/><rect x="734.4" y="43.90" width="38.5" height="2.6" fill="#111"/><rect x="734.4" y="55.90" width="38.5" height="2.6" fill="#111"/>
<rect x="734.8" y="74.80" width="15.50" height="2.6" fill="#111"/><rect x="757.30" y="74.80" width="15.50" height="2.6" fill="#111"/><rect x="734.8" y="86.80" width="15.50" height="2.6" fill="#111"/><rect x="757.30" y="86.80" width="15.50" height="2.6" fill="#111"/><rect x="734.8" y="98.80" width="15.50" height="2.6" fill="#111"/><rect x="757.30" y="98.80" width="15.50" height="2.6" fill="#111"/>
<rect x="736.3" y="116.80" width="37.7" height="2.6" fill="#111"/><rect x="736.3" y="128.85" width="15.35" height="2.6" fill="#111"/><rect x="758.65" y="128.85" width="15.35" height="2.6" fill="#111"/><rect x="736.3" y="140.90" width="15.35" height="2.6" fill="#111"/><rect x="758.65" y="140.90" width="15.35" height="2.6" fill="#111"/>
<rect x="736.3" y="158.50" width="37.7" height="2.6" fill="#111"/><rect x="736.3" y="170.95" width="15.35" height="2.6" fill="#111"/><rect x="758.65" y="170.95" width="15.35" height="2.6" fill="#111"/><rect x="736.3" y="183.40" width="37.7" height="2.6" fill="#111"/>
<rect x="837.6" y="31.90" width="38.5" height="2.6" fill="#111"/><rect x="837.6" y="43.90" width="38.5" height="2.6" fill="#111"/><rect x="837.6" y="55.90" width="15.75" height="2.6" fill="#111"/><rect x="860.35" y="55.90" width="15.75" height="2.6" fill="#111"/>
<rect x="837.6" y="74.30" width="15.75" height="2.6" fill="#111"/><rect x="860.35" y="74.30" width="15.75" height="2.6" fill="#111"/><rect x="837.6" y="86.00" width="38.5" height="2.6" fill="#111"/><rect x="837.6" y="97.70" width="38.5" height="2.6" fill="#111"/>
<rect x="838.4" y="117.00" width="15.30" height="2.6" fill="#111"/><rect x="860.70" y="117.00" width="15.30" height="2.6" fill="#111"/><rect x="838.4" y="128.55" width="15.30" height="2.6" fill="#111"/><rect x="860.70" y="128.55" width="15.30" height="2.6" fill="#111"/><rect x="838.4" y="140.10" width="37.6" height="2.6" fill="#111"/>
<rect x="837.0" y="159.70" width="15.25" height="2.6" fill="#111"/><rect x="859.25" y="159.70" width="15.25" height="2.6" fill="#111"/><rect x="837.0" y="171.30" width="37.5" height="2.6" fill="#111"/><rect x="837.0" y="182.90" width="15.25" height="2.6" fill="#111"/><rect x="859.25" y="182.90" width="15.25" height="2.6" fill="#111"/>
<text x="777.8" y="42" font-size="9.8" font-weight="normal" fill="#262626" text-anchor="start" textLength="30.5" lengthAdjust="spacingAndGlyphs" stroke="#262626" stroke-width="0.3">TEMPO</text>
<text x="777.8" y="56.2" font-size="9.8" font-weight="normal" fill="#262626" text-anchor="start" textLength="17.3" lengthAdjust="spacingAndGlyphs" stroke="#262626" stroke-width="0.3">CÉU</text>
<text x="777.8" y="84.4" font-size="9.8" font-weight="normal" fill="#262626" text-anchor="start" textLength="34.7" lengthAdjust="spacingAndGlyphs" stroke="#262626" stroke-width="0.3">ESPAÇO</text>
<text x="777.8" y="98.5" font-size="9.8" font-weight="normal" fill="#262626" text-anchor="start" textLength="27" lengthAdjust="spacingAndGlyphs" stroke="#262626" stroke-width="0.3">TERRA</text>
<text x="778.2" y="126.5" font-size="9.8" font-weight="normal" fill="#262626" text-anchor="start" textLength="35.2" lengthAdjust="spacingAndGlyphs" stroke="#262626" stroke-width="0.3">TEMPLO</text>
<text x="778.2" y="140.8" font-size="9.8" font-weight="normal" fill="#262626" text-anchor="start" textLength="52.8" lengthAdjust="spacingAndGlyphs" stroke="#262626" stroke-width="0.3">MEDITAÇÃO</text>
<text x="778.2" y="169.6" font-size="9.8" font-weight="normal" fill="#262626" text-anchor="start" textLength="27" lengthAdjust="spacingAndGlyphs" stroke="#262626" stroke-width="0.3">VISÃO</text>
<text x="778.2" y="183.3" font-size="9.8" font-weight="normal" fill="#262626" text-anchor="start" textLength="16.2" lengthAdjust="spacingAndGlyphs" stroke="#262626" stroke-width="0.3">SOL</text>
<text x="879.8" y="42" font-size="9.8" font-weight="normal" fill="#262626" text-anchor="start" textLength="54.3" lengthAdjust="spacingAndGlyphs" stroke="#262626" stroke-width="0.3">RESPIRAÇÃO</text>
<text x="879.8" y="56" font-size="9.8" font-weight="normal" fill="#262626" text-anchor="start" textLength="29.6" lengthAdjust="spacingAndGlyphs" stroke="#262626" stroke-width="0.3">VENTO</text>
<text x="879.8" y="83.9" font-size="9.8" font-weight="normal" fill="#262626" text-anchor="start" textLength="35.9" lengthAdjust="spacingAndGlyphs" stroke="#262626" stroke-width="0.3">ALEGRIA</text>
<text x="879.8" y="98.5" font-size="9.8" font-weight="normal" fill="#262626" text-anchor="start" textLength="37.7" lengthAdjust="spacingAndGlyphs" stroke="#262626" stroke-width="0.3">OCEANO</text>
<text x="879.8" y="127" font-size="9.8" font-weight="normal" fill="#262626" text-anchor="start" textLength="36.7" lengthAdjust="spacingAndGlyphs" stroke="#262626" stroke-width="0.3">ENERGIA</text>
<text x="879.8" y="141" font-size="9.8" font-weight="normal" fill="#262626" text-anchor="start" textLength="36.7" lengthAdjust="spacingAndGlyphs" stroke="#262626" stroke-width="0.3">TROVÃO</text>
<text x="879.8" y="169.5" font-size="9.8" font-weight="normal" fill="#262626" text-anchor="start" textLength="43" lengthAdjust="spacingAndGlyphs" stroke="#262626" stroke-width="0.3">CORAÇÃO</text>
<text x="879.8" y="183.7" font-size="9.8" font-weight="normal" fill="#262626" text-anchor="start" textLength="16.6" lengthAdjust="spacingAndGlyphs" stroke="#262626" stroke-width="0.3">LUA</text>
<ellipse cx="765.4" cy="88.1" rx="55" ry="26.2" fill="none" stroke="#111" stroke-width="2.4"/>
<ellipse cx="874.9" cy="175" rx="54.8" ry="27" fill="none" stroke="#111" stroke-width="2.4"/>
<rect x="685.2" y="243.3" width="328.8" height="36.2" fill="#ffff00"/>
<text x="688.8" y="256.9" font-size="12" font-weight="bold" fill="#1a1a1a" text-anchor="start" textLength="75.3" lengthAdjust="spacingAndGlyphs" >Harmônica 34</text>
<text x="688.8" y="274.2" font-size="12" font-weight="bold" fill="#1a1a1a" text-anchor="start" textLength="310" lengthAdjust="spacingAndGlyphs" >Codon 7: Poder do Povo. A árvore do tempo gira a terra.</text>
</svg></body></html>
